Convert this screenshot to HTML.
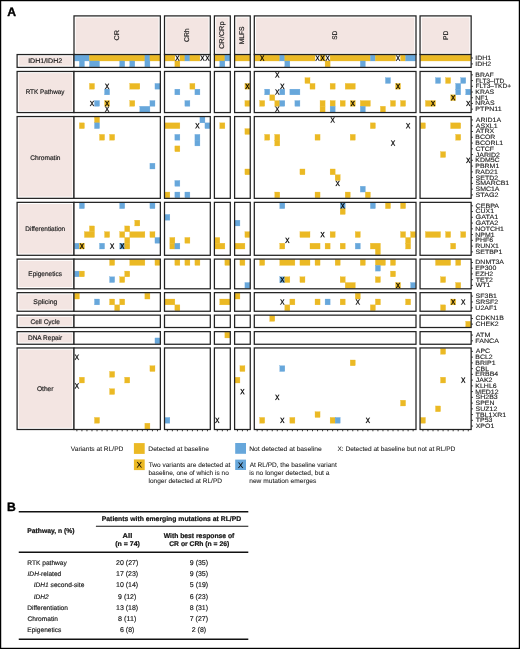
<!DOCTYPE html>
<html><head><meta charset="utf-8"><title>Figure</title>
<style>
html,body{margin:0;padding:0;background:#fff;width:520px;height:649px;overflow:hidden}
svg{display:block;font-family:"Liberation Sans",sans-serif;will-change:transform;text-rendering:geometricPrecision}
</style></head><body>
<svg width="520" height="649" viewBox="0 0 520 649">
<defs><path id="r59" d="M1112 0 689 616 257 0H46L582 732L87 1409H298L690 856L1071 1409H1282L800 739L1323 0Z"/></defs>
<rect width="520" height="649" fill="#fff"/>
<text x="7.196" y="15.75" font-size="12.2" font-weight="bold" textLength="8.81" lengthAdjust="spacingAndGlyphs" fill="#000" stroke="#000" stroke-width="0.35" stroke-linejoin="round">A</text>
<rect x="75.7" y="17.6" width="82.95" height="35.25" fill="#F3E5E2"/>
<rect x="74" y="15.9" width="86.35" height="38.65" fill="none" stroke="#222" stroke-width="1.25"/>
<g transform="translate(116.775 35.225) rotate(-90)"><text x="-5.323" y="2.339" font-size="6.8" textLength="10.614" lengthAdjust="spacingAndGlyphs" fill="#1e1e1e" stroke="#1e1e1e" stroke-width="0.2" stroke-linejoin="round">CR</text></g>
<rect x="166.2" y="17.6" width="42.4" height="35.25" fill="#F3E5E2"/>
<rect x="164.5" y="15.9" width="45.8" height="38.65" fill="none" stroke="#222" stroke-width="1.25"/>
<g transform="translate(187 35.225) rotate(-90)"><text x="-6.745" y="2.339" font-size="6.8" textLength="13.586" lengthAdjust="spacingAndGlyphs" fill="#1e1e1e" stroke="#1e1e1e" stroke-width="0.2" stroke-linejoin="round">CRh</text></g>
<rect x="216.1" y="17.6" width="12.5" height="35.25" fill="#F3E5E2"/>
<rect x="214.4" y="15.9" width="15.9" height="38.65" fill="none" stroke="#222" stroke-width="1.25"/>
<g transform="translate(221.95 35.225) rotate(-90)"><text x="-13.878" y="2.339" font-size="6.8" textLength="27.69" lengthAdjust="spacingAndGlyphs" fill="#1e1e1e" stroke="#1e1e1e" stroke-width="0.2" stroke-linejoin="round">CR/CRp</text></g>
<rect x="236.3" y="17.6" width="12.25" height="35.25" fill="#F3E5E2"/>
<rect x="234.6" y="15.9" width="15.65" height="38.65" fill="none" stroke="#222" stroke-width="1.25"/>
<g transform="translate(242.025 35.225) rotate(-90)"><text x="-9.049" y="2.339" font-size="6.8" textLength="17.857" lengthAdjust="spacingAndGlyphs" fill="#1e1e1e" stroke="#1e1e1e" stroke-width="0.2" stroke-linejoin="round">MLFS</text></g>
<rect x="256" y="17.6" width="158.3" height="35.25" fill="#F3E5E2"/>
<rect x="254.3" y="15.9" width="161.7" height="38.65" fill="none" stroke="#222" stroke-width="1.25"/>
<g transform="translate(334.75 35.225) rotate(-90)"><text x="-4.494" y="2.339" font-size="6.8" textLength="9.005" lengthAdjust="spacingAndGlyphs" fill="#1e1e1e" stroke="#1e1e1e" stroke-width="0.2" stroke-linejoin="round">SD</text></g>
<rect x="421.75" y="17.6" width="47.7" height="35.25" fill="#F3E5E2"/>
<rect x="420.05" y="15.9" width="51.1" height="38.65" fill="none" stroke="#222" stroke-width="1.25"/>
<g transform="translate(445.2 35.225) rotate(-90)"><text x="-4.747" y="2.339" font-size="6.8" textLength="9.266" lengthAdjust="spacingAndGlyphs" fill="#1e1e1e" stroke="#1e1e1e" stroke-width="0.2" stroke-linejoin="round">PD</text></g>
<rect x="18.8" y="56.25" width="53.5" height="9.45" fill="#F3E5E2"/>
<rect x="17.1" y="54.55" width="56.9" height="12.85" fill="none" stroke="#222" stroke-width="1.25"/>
<text x="28.151" y="63.28" font-size="6.7" textLength="34.003" lengthAdjust="spacingAndGlyphs" fill="#1e1e1e" stroke="#1e1e1e" stroke-width="0.18" stroke-linejoin="round">IDH1/IDH2</text>
<rect x="74" y="54.55" width="86.35" height="12.85" fill="#fff"/>
<rect x="74.35" y="55.1" width="15.115" height="5.875" fill="#67A7DB" stroke="#67A7DB" stroke-width="0.3"/>
<rect x="89.465" y="55.1" width="55.421" height="5.875" fill="#EBB924" stroke="#EBB924" stroke-width="0.3"/>
<rect x="144.885" y="55.1" width="5.038" height="5.875" fill="#67A7DB" stroke="#67A7DB" stroke-width="0.3"/>
<rect x="149.924" y="55.1" width="10.076" height="5.875" fill="#EBB924" stroke="#EBB924" stroke-width="0.3"/>
<rect x="79.388" y="60.975" width="5.038" height="5.875" fill="#67A7DB" stroke="#67A7DB" stroke-width="0.3"/>
<rect x="89.465" y="60.975" width="10.076" height="5.875" fill="#67A7DB" stroke="#67A7DB" stroke-width="0.3"/>
<rect x="119.694" y="60.975" width="5.038" height="5.875" fill="#67A7DB" stroke="#67A7DB" stroke-width="0.3"/>
<rect x="129.771" y="60.975" width="5.038" height="5.875" fill="#67A7DB" stroke="#67A7DB" stroke-width="0.3"/>
<rect x="144.885" y="60.975" width="5.038" height="5.875" fill="#67A7DB" stroke="#67A7DB" stroke-width="0.3"/>
<rect x="74" y="54.55" width="86.35" height="12.85" fill="none" stroke="#222" stroke-width="1.25"/>
<rect x="164.5" y="54.55" width="45.8" height="12.85" fill="#fff"/>
<rect x="164.85" y="55.1" width="10.022" height="5.875" fill="#EBB924" stroke="#EBB924" stroke-width="0.3"/>
<rect x="179.883" y="55.1" width="5.011" height="5.875" fill="#EBB924" stroke="#EBB924" stroke-width="0.3"/>
<rect x="184.894" y="55.1" width="5.011" height="5.875" fill="#67A7DB" stroke="#67A7DB" stroke-width="0.3"/>
<rect x="189.906" y="55.1" width="10.022" height="5.875" fill="#EBB924" stroke="#EBB924" stroke-width="0.3"/>
<rect x="174.872" y="60.975" width="5.011" height="5.875" fill="#EBB924" stroke="#EBB924" stroke-width="0.3"/>
<rect x="164.5" y="54.55" width="45.8" height="12.85" fill="none" stroke="#222" stroke-width="1.25"/>
<rect x="214.4" y="54.55" width="15.9" height="12.85" fill="#fff"/>
<rect x="214.75" y="55.1" width="10.133" height="5.875" fill="#EBB924" stroke="#EBB924" stroke-width="0.3"/>
<rect x="224.883" y="55.1" width="5.067" height="5.875" fill="#67A7DB" stroke="#67A7DB" stroke-width="0.3"/>
<rect x="219.817" y="60.975" width="5.067" height="5.875" fill="#67A7DB" stroke="#67A7DB" stroke-width="0.3"/>
<rect x="214.4" y="54.55" width="15.9" height="12.85" fill="none" stroke="#222" stroke-width="1.25"/>
<rect x="234.6" y="54.55" width="15.65" height="12.85" fill="#fff"/>
<rect x="234.95" y="55.1" width="14.95" height="5.875" fill="#EBB924" stroke="#EBB924" stroke-width="0.3"/>
<rect x="234.6" y="54.55" width="15.65" height="12.85" fill="none" stroke="#222" stroke-width="1.25"/>
<rect x="254.3" y="54.55" width="161.7" height="12.85" fill="#fff"/>
<rect x="254.65" y="55.1" width="25.156" height="5.875" fill="#EBB924" stroke="#EBB924" stroke-width="0.3"/>
<rect x="279.806" y="55.1" width="5.031" height="5.875" fill="#67A7DB" stroke="#67A7DB" stroke-width="0.3"/>
<rect x="284.837" y="55.1" width="30.188" height="5.875" fill="#EBB924" stroke="#EBB924" stroke-width="0.3"/>
<rect x="320.056" y="55.1" width="5.031" height="5.875" fill="#EBB924" stroke="#EBB924" stroke-width="0.3"/>
<rect x="330.119" y="55.1" width="40.25" height="5.875" fill="#EBB924" stroke="#EBB924" stroke-width="0.3"/>
<rect x="370.369" y="55.1" width="5.031" height="5.875" fill="#67A7DB" stroke="#67A7DB" stroke-width="0.3"/>
<rect x="375.4" y="55.1" width="20.125" height="5.875" fill="#EBB924" stroke="#EBB924" stroke-width="0.3"/>
<rect x="400.556" y="55.1" width="5.031" height="5.875" fill="#EBB924" stroke="#EBB924" stroke-width="0.3"/>
<rect x="405.587" y="55.1" width="10.062" height="5.875" fill="#67A7DB" stroke="#67A7DB" stroke-width="0.3"/>
<rect x="284.837" y="60.975" width="5.031" height="5.875" fill="#67A7DB" stroke="#67A7DB" stroke-width="0.3"/>
<rect x="325.087" y="60.975" width="5.031" height="5.875" fill="#EBB924" stroke="#EBB924" stroke-width="0.3"/>
<rect x="360.306" y="60.975" width="5.031" height="5.875" fill="#67A7DB" stroke="#67A7DB" stroke-width="0.3"/>
<rect x="254.3" y="54.55" width="161.7" height="12.85" fill="none" stroke="#222" stroke-width="1.25"/>
<rect x="420.05" y="54.55" width="51.1" height="12.85" fill="#fff"/>
<rect x="420.4" y="55.1" width="50.4" height="5.875" fill="#EBB924" stroke="#EBB924" stroke-width="0.3"/>
<rect x="420.05" y="54.55" width="51.1" height="12.85" fill="none" stroke="#222" stroke-width="1.25"/>
<text x="475.286" y="59.987" font-size="6.3" textLength="15.901" lengthAdjust="spacingAndGlyphs" fill="#1e1e1e" stroke="#1e1e1e" stroke-width="0.12" stroke-linejoin="round">IDH1</text>
<text x="475.286" y="65.862" font-size="6.3" textLength="15.901" lengthAdjust="spacingAndGlyphs" fill="#1e1e1e" stroke="#1e1e1e" stroke-width="0.12" stroke-linejoin="round">IDH2</text>
<rect x="18.8" y="73.15" width="53.5" height="37.7" fill="#F3E5E2"/>
<rect x="17.1" y="71.45" width="56.9" height="41.1" fill="none" stroke="#222" stroke-width="1.25"/>
<text x="25.629" y="94.305" font-size="6.7" textLength="38.833" lengthAdjust="spacingAndGlyphs" fill="#1e1e1e" stroke="#1e1e1e" stroke-width="0.18" stroke-linejoin="round">RTK Pathway</text>
<rect x="74" y="71.45" width="86.35" height="41.1" fill="#fff"/>
<rect x="89.465" y="83.429" width="5.038" height="5.714" fill="#EBB924" stroke="#EBB924" stroke-width="0.3"/>
<rect x="129.771" y="83.429" width="10.076" height="5.714" fill="#EBB924" stroke="#EBB924" stroke-width="0.3"/>
<rect x="154.962" y="83.429" width="5.038" height="5.714" fill="#67A7DB" stroke="#67A7DB" stroke-width="0.3"/>
<rect x="104.579" y="89.143" width="5.038" height="5.714" fill="#67A7DB" stroke="#67A7DB" stroke-width="0.3"/>
<rect x="94.503" y="100.571" width="5.038" height="5.714" fill="#67A7DB" stroke="#67A7DB" stroke-width="0.3"/>
<rect x="104.579" y="100.571" width="5.038" height="5.714" fill="#EBB924" stroke="#EBB924" stroke-width="0.3"/>
<rect x="129.771" y="100.571" width="5.038" height="5.714" fill="#EBB924" stroke="#EBB924" stroke-width="0.3"/>
<rect x="149.924" y="100.571" width="5.038" height="5.714" fill="#67A7DB" stroke="#67A7DB" stroke-width="0.3"/>
<rect x="139.847" y="106.286" width="10.076" height="5.714" fill="#67A7DB" stroke="#67A7DB" stroke-width="0.3"/>
<rect x="74" y="71.45" width="86.35" height="41.1" fill="none" stroke="#222" stroke-width="1.25"/>
<rect x="164.5" y="71.45" width="45.8" height="41.1" fill="#fff"/>
<rect x="189.906" y="83.429" width="5.011" height="5.714" fill="#EBB924" stroke="#EBB924" stroke-width="0.3"/>
<rect x="174.872" y="89.143" width="5.011" height="5.714" fill="#67A7DB" stroke="#67A7DB" stroke-width="0.3"/>
<rect x="194.917" y="89.143" width="5.011" height="5.714" fill="#67A7DB" stroke="#67A7DB" stroke-width="0.3"/>
<rect x="184.894" y="100.571" width="5.011" height="5.714" fill="#67A7DB" stroke="#67A7DB" stroke-width="0.3"/>
<rect x="164.5" y="71.45" width="45.8" height="41.1" fill="none" stroke="#222" stroke-width="1.25"/>
<rect x="214.4" y="71.45" width="15.9" height="41.1" fill="#fff"/>
<rect x="214.4" y="71.45" width="15.9" height="41.1" fill="none" stroke="#222" stroke-width="1.25"/>
<rect x="234.6" y="71.45" width="15.65" height="41.1" fill="#fff"/>
<rect x="244.917" y="83.429" width="4.983" height="5.714" fill="#EBB924" stroke="#EBB924" stroke-width="0.3"/>
<rect x="244.917" y="100.571" width="4.983" height="5.714" fill="#EBB924" stroke="#EBB924" stroke-width="0.3"/>
<rect x="234.6" y="71.45" width="15.65" height="41.1" fill="none" stroke="#222" stroke-width="1.25"/>
<rect x="254.3" y="71.45" width="161.7" height="41.1" fill="#fff"/>
<rect x="304.962" y="77.714" width="5.031" height="5.714" fill="#EBB924" stroke="#EBB924" stroke-width="0.3"/>
<rect x="385.462" y="77.714" width="5.031" height="5.714" fill="#67A7DB" stroke="#67A7DB" stroke-width="0.3"/>
<rect x="309.994" y="83.429" width="5.031" height="5.714" fill="#EBB924" stroke="#EBB924" stroke-width="0.3"/>
<rect x="330.119" y="83.429" width="5.031" height="5.714" fill="#EBB924" stroke="#EBB924" stroke-width="0.3"/>
<rect x="345.212" y="83.429" width="10.062" height="5.714" fill="#EBB924" stroke="#EBB924" stroke-width="0.3"/>
<rect x="395.525" y="83.429" width="5.031" height="5.714" fill="#EBB924" stroke="#EBB924" stroke-width="0.3"/>
<rect x="264.712" y="89.143" width="5.031" height="5.714" fill="#67A7DB" stroke="#67A7DB" stroke-width="0.3"/>
<rect x="279.806" y="89.143" width="5.031" height="5.714" fill="#67A7DB" stroke="#67A7DB" stroke-width="0.3"/>
<rect x="289.869" y="89.143" width="10.062" height="5.714" fill="#67A7DB" stroke="#67A7DB" stroke-width="0.3"/>
<rect x="269.744" y="94.857" width="5.031" height="5.714" fill="#EBB924" stroke="#EBB924" stroke-width="0.3"/>
<rect x="259.681" y="100.571" width="5.031" height="5.714" fill="#EBB924" stroke="#EBB924" stroke-width="0.3"/>
<rect x="274.775" y="100.571" width="5.031" height="5.714" fill="#EBB924" stroke="#EBB924" stroke-width="0.3"/>
<rect x="279.806" y="100.571" width="5.031" height="5.714" fill="#67A7DB" stroke="#67A7DB" stroke-width="0.3"/>
<rect x="294.9" y="100.571" width="5.031" height="5.714" fill="#67A7DB" stroke="#67A7DB" stroke-width="0.3"/>
<rect x="320.056" y="100.571" width="5.031" height="5.714" fill="#EBB924" stroke="#EBB924" stroke-width="0.3"/>
<rect x="330.119" y="100.571" width="5.031" height="5.714" fill="#EBB924" stroke="#EBB924" stroke-width="0.3"/>
<rect x="340.181" y="100.571" width="5.031" height="5.714" fill="#EBB924" stroke="#EBB924" stroke-width="0.3"/>
<rect x="350.244" y="100.571" width="5.031" height="5.714" fill="#EBB924" stroke="#EBB924" stroke-width="0.3"/>
<rect x="360.306" y="100.571" width="10.062" height="5.714" fill="#EBB924" stroke="#EBB924" stroke-width="0.3"/>
<rect x="390.494" y="100.571" width="5.031" height="5.714" fill="#EBB924" stroke="#EBB924" stroke-width="0.3"/>
<rect x="400.556" y="100.571" width="5.031" height="5.714" fill="#EBB924" stroke="#EBB924" stroke-width="0.3"/>
<rect x="320.056" y="106.286" width="5.031" height="5.714" fill="#EBB924" stroke="#EBB924" stroke-width="0.3"/>
<rect x="330.119" y="106.286" width="5.031" height="5.714" fill="#67A7DB" stroke="#67A7DB" stroke-width="0.3"/>
<rect x="360.306" y="106.286" width="5.031" height="5.714" fill="#67A7DB" stroke="#67A7DB" stroke-width="0.3"/>
<rect x="380.431" y="106.286" width="5.031" height="5.714" fill="#EBB924" stroke="#EBB924" stroke-width="0.3"/>
<rect x="254.3" y="71.45" width="161.7" height="41.1" fill="none" stroke="#222" stroke-width="1.25"/>
<rect x="420.05" y="71.45" width="51.1" height="41.1" fill="#fff"/>
<rect x="435.52" y="77.714" width="5.04" height="5.714" fill="#67A7DB" stroke="#67A7DB" stroke-width="0.3"/>
<rect x="445.6" y="77.714" width="5.04" height="5.714" fill="#EBB924" stroke="#EBB924" stroke-width="0.3"/>
<rect x="460.72" y="77.714" width="5.04" height="5.714" fill="#67A7DB" stroke="#67A7DB" stroke-width="0.3"/>
<rect x="455.68" y="83.429" width="5.04" height="5.714" fill="#67A7DB" stroke="#67A7DB" stroke-width="0.3"/>
<rect x="455.68" y="89.143" width="5.04" height="5.714" fill="#67A7DB" stroke="#67A7DB" stroke-width="0.3"/>
<rect x="465.76" y="89.143" width="5.04" height="5.714" fill="#67A7DB" stroke="#67A7DB" stroke-width="0.3"/>
<rect x="450.64" y="94.857" width="5.04" height="5.714" fill="#EBB924" stroke="#EBB924" stroke-width="0.3"/>
<rect x="425.44" y="100.571" width="10.08" height="5.714" fill="#EBB924" stroke="#EBB924" stroke-width="0.3"/>
<rect x="420.05" y="71.45" width="51.1" height="41.1" fill="none" stroke="#222" stroke-width="1.25"/>
<text x="475.354" y="76.807" font-size="6.3" textLength="18.485" lengthAdjust="spacingAndGlyphs" fill="#1e1e1e" stroke="#1e1e1e" stroke-width="0.12" stroke-linejoin="round">BRAF</text>
<text x="475.404" y="82.521" font-size="6.3" textLength="28.785" lengthAdjust="spacingAndGlyphs" fill="#1e1e1e" stroke="#1e1e1e" stroke-width="0.12" stroke-linejoin="round">FLT3–ITD</text>
<text x="475.391" y="88.236" font-size="6.3" textLength="35.815" lengthAdjust="spacingAndGlyphs" fill="#1e1e1e" stroke="#1e1e1e" stroke-width="0.12" stroke-linejoin="round">FLT3–TKD+</text>
<text x="475.354" y="93.95" font-size="6.3" textLength="18.859" lengthAdjust="spacingAndGlyphs" fill="#1e1e1e" stroke="#1e1e1e" stroke-width="0.12" stroke-linejoin="round">KRAS</text>
<text x="475.354" y="99.664" font-size="6.3" textLength="13.063" lengthAdjust="spacingAndGlyphs" fill="#1e1e1e" stroke="#1e1e1e" stroke-width="0.12" stroke-linejoin="round">NF1</text>
<text x="475.354" y="105.379" font-size="6.3" textLength="19.226" lengthAdjust="spacingAndGlyphs" fill="#1e1e1e" stroke="#1e1e1e" stroke-width="0.12" stroke-linejoin="round">NRAS</text>
<text x="475.354" y="111.093" font-size="6.3" textLength="26.382" lengthAdjust="spacingAndGlyphs" fill="#1e1e1e" stroke="#1e1e1e" stroke-width="0.12" stroke-linejoin="round">PTPN11</text>
<rect x="18.8" y="118.25" width="53.5" height="78.4" fill="#F3E5E2"/>
<rect x="17.1" y="116.55" width="56.9" height="81.8" fill="none" stroke="#222" stroke-width="1.25"/>
<text x="30.166" y="159.755" font-size="6.7" textLength="30.362" lengthAdjust="spacingAndGlyphs" fill="#1e1e1e" stroke="#1e1e1e" stroke-width="0.18" stroke-linejoin="round">Chromatin</text>
<rect x="74" y="116.55" width="86.35" height="81.8" fill="#fff"/>
<rect x="94.503" y="117.1" width="5.038" height="5.764" fill="#EBB924" stroke="#EBB924" stroke-width="0.3"/>
<rect x="79.388" y="122.864" width="5.038" height="5.764" fill="#EBB924" stroke="#EBB924" stroke-width="0.3"/>
<rect x="94.503" y="122.864" width="5.038" height="5.764" fill="#67A7DB" stroke="#67A7DB" stroke-width="0.3"/>
<rect x="99.541" y="134.393" width="5.038" height="5.764" fill="#EBB924" stroke="#EBB924" stroke-width="0.3"/>
<rect x="109.618" y="134.393" width="5.038" height="5.764" fill="#EBB924" stroke="#EBB924" stroke-width="0.3"/>
<rect x="149.924" y="163.214" width="5.038" height="5.764" fill="#67A7DB" stroke="#67A7DB" stroke-width="0.3"/>
<rect x="74" y="116.55" width="86.35" height="81.8" fill="none" stroke="#222" stroke-width="1.25"/>
<rect x="164.5" y="116.55" width="45.8" height="81.8" fill="#fff"/>
<rect x="199.928" y="117.1" width="5.011" height="5.764" fill="#67A7DB" stroke="#67A7DB" stroke-width="0.3"/>
<rect x="164.85" y="122.864" width="15.033" height="5.764" fill="#EBB924" stroke="#EBB924" stroke-width="0.3"/>
<rect x="204.939" y="122.864" width="5.011" height="5.764" fill="#67A7DB" stroke="#67A7DB" stroke-width="0.3"/>
<rect x="174.872" y="134.393" width="5.011" height="5.764" fill="#67A7DB" stroke="#67A7DB" stroke-width="0.3"/>
<rect x="194.917" y="134.393" width="5.011" height="5.764" fill="#67A7DB" stroke="#67A7DB" stroke-width="0.3"/>
<rect x="194.917" y="140.157" width="5.011" height="5.764" fill="#67A7DB" stroke="#67A7DB" stroke-width="0.3"/>
<rect x="174.872" y="145.921" width="5.011" height="5.764" fill="#EBB924" stroke="#EBB924" stroke-width="0.3"/>
<rect x="174.872" y="180.507" width="5.011" height="5.764" fill="#67A7DB" stroke="#67A7DB" stroke-width="0.3"/>
<rect x="164.85" y="192.036" width="5.011" height="5.764" fill="#EBB924" stroke="#EBB924" stroke-width="0.3"/>
<rect x="174.872" y="192.036" width="5.011" height="5.764" fill="#67A7DB" stroke="#67A7DB" stroke-width="0.3"/>
<rect x="184.894" y="192.036" width="5.011" height="5.764" fill="#67A7DB" stroke="#67A7DB" stroke-width="0.3"/>
<rect x="164.5" y="116.55" width="45.8" height="81.8" fill="none" stroke="#222" stroke-width="1.25"/>
<rect x="214.4" y="116.55" width="15.9" height="81.8" fill="#fff"/>
<rect x="219.817" y="122.864" width="5.067" height="5.764" fill="#EBB924" stroke="#EBB924" stroke-width="0.3"/>
<rect x="214.4" y="116.55" width="15.9" height="81.8" fill="none" stroke="#222" stroke-width="1.25"/>
<rect x="234.6" y="116.55" width="15.65" height="81.8" fill="#fff"/>
<rect x="244.917" y="128.629" width="4.983" height="5.764" fill="#EBB924" stroke="#EBB924" stroke-width="0.3"/>
<rect x="244.917" y="168.979" width="4.983" height="5.764" fill="#EBB924" stroke="#EBB924" stroke-width="0.3"/>
<rect x="234.6" y="116.55" width="15.65" height="81.8" fill="none" stroke="#222" stroke-width="1.25"/>
<rect x="254.3" y="116.55" width="161.7" height="81.8" fill="#fff"/>
<rect x="370.369" y="122.864" width="5.031" height="5.764" fill="#EBB924" stroke="#EBB924" stroke-width="0.3"/>
<rect x="264.712" y="134.393" width="5.031" height="5.764" fill="#EBB924" stroke="#EBB924" stroke-width="0.3"/>
<rect x="274.775" y="134.393" width="5.031" height="5.764" fill="#EBB924" stroke="#EBB924" stroke-width="0.3"/>
<rect x="315.025" y="134.393" width="5.031" height="5.764" fill="#EBB924" stroke="#EBB924" stroke-width="0.3"/>
<rect x="350.244" y="134.393" width="5.031" height="5.764" fill="#EBB924" stroke="#EBB924" stroke-width="0.3"/>
<rect x="274.775" y="140.157" width="5.031" height="5.764" fill="#EBB924" stroke="#EBB924" stroke-width="0.3"/>
<rect x="299.931" y="168.979" width="5.031" height="5.764" fill="#EBB924" stroke="#EBB924" stroke-width="0.3"/>
<rect x="330.119" y="168.979" width="5.031" height="5.764" fill="#EBB924" stroke="#EBB924" stroke-width="0.3"/>
<rect x="335.15" y="174.743" width="5.031" height="5.764" fill="#EBB924" stroke="#EBB924" stroke-width="0.3"/>
<rect x="360.306" y="186.271" width="5.031" height="5.764" fill="#67A7DB" stroke="#67A7DB" stroke-width="0.3"/>
<rect x="274.775" y="192.036" width="5.031" height="5.764" fill="#EBB924" stroke="#EBB924" stroke-width="0.3"/>
<rect x="315.025" y="192.036" width="5.031" height="5.764" fill="#EBB924" stroke="#EBB924" stroke-width="0.3"/>
<rect x="345.212" y="192.036" width="5.031" height="5.764" fill="#EBB924" stroke="#EBB924" stroke-width="0.3"/>
<rect x="365.337" y="192.036" width="5.031" height="5.764" fill="#EBB924" stroke="#EBB924" stroke-width="0.3"/>
<rect x="254.3" y="116.55" width="161.7" height="81.8" fill="none" stroke="#222" stroke-width="1.25"/>
<rect x="420.05" y="116.55" width="51.1" height="81.8" fill="#fff"/>
<rect x="420.4" y="122.864" width="5.04" height="5.764" fill="#EBB924" stroke="#EBB924" stroke-width="0.3"/>
<rect x="450.64" y="122.864" width="10.08" height="5.764" fill="#EBB924" stroke="#EBB924" stroke-width="0.3"/>
<rect x="455.68" y="134.393" width="5.04" height="5.764" fill="#EBB924" stroke="#EBB924" stroke-width="0.3"/>
<rect x="440.56" y="151.686" width="5.04" height="5.764" fill="#EBB924" stroke="#EBB924" stroke-width="0.3"/>
<rect x="420.05" y="116.55" width="51.1" height="81.8" fill="none" stroke="#222" stroke-width="1.25"/>
<text x="475.887" y="121.932" font-size="6.3" textLength="25.272" lengthAdjust="spacingAndGlyphs" fill="#1e1e1e" stroke="#1e1e1e" stroke-width="0.12" stroke-linejoin="round">ARID1A</text>
<text x="475.887" y="127.696" font-size="6.3" textLength="21.703" lengthAdjust="spacingAndGlyphs" fill="#1e1e1e" stroke="#1e1e1e" stroke-width="0.12" stroke-linejoin="round">ASXL1</text>
<text x="475.887" y="133.461" font-size="6.3" textLength="18.485" lengthAdjust="spacingAndGlyphs" fill="#1e1e1e" stroke="#1e1e1e" stroke-width="0.12" stroke-linejoin="round">ATRX</text>
<text x="475.354" y="139.225" font-size="6.3" textLength="19.963" lengthAdjust="spacingAndGlyphs" fill="#1e1e1e" stroke="#1e1e1e" stroke-width="0.12" stroke-linejoin="round">BCOR</text>
<text x="475.354" y="144.989" font-size="6.3" textLength="27.86" lengthAdjust="spacingAndGlyphs" fill="#1e1e1e" stroke="#1e1e1e" stroke-width="0.12" stroke-linejoin="round">BCORL1</text>
<text x="475.562" y="150.754" font-size="6.3" textLength="18.479" lengthAdjust="spacingAndGlyphs" fill="#1e1e1e" stroke="#1e1e1e" stroke-width="0.12" stroke-linejoin="round">CTCF</text>
<text x="475.796" y="156.518" font-size="6.3" textLength="24.161" lengthAdjust="spacingAndGlyphs" fill="#1e1e1e" stroke="#1e1e1e" stroke-width="0.12" stroke-linejoin="round">JARID2</text>
<text x="475.354" y="162.282" font-size="6.3" textLength="24.278" lengthAdjust="spacingAndGlyphs" fill="#1e1e1e" stroke="#1e1e1e" stroke-width="0.12" stroke-linejoin="round">KDM5C</text>
<text x="475.354" y="168.046" font-size="6.3" textLength="23.911" lengthAdjust="spacingAndGlyphs" fill="#1e1e1e" stroke="#1e1e1e" stroke-width="0.12" stroke-linejoin="round">PBRM1</text>
<text x="475.354" y="173.811" font-size="6.3" textLength="22.437" lengthAdjust="spacingAndGlyphs" fill="#1e1e1e" stroke="#1e1e1e" stroke-width="0.12" stroke-linejoin="round">RAD21</text>
<text x="475.598" y="179.575" font-size="6.3" textLength="22.434" lengthAdjust="spacingAndGlyphs" fill="#1e1e1e" stroke="#1e1e1e" stroke-width="0.12" stroke-linejoin="round">SETD2</text>
<text x="475.598" y="185.339" font-size="6.3" textLength="33.649" lengthAdjust="spacingAndGlyphs" fill="#1e1e1e" stroke="#1e1e1e" stroke-width="0.12" stroke-linejoin="round">SMARCB1</text>
<text x="475.598" y="191.104" font-size="6.3" textLength="23.911" lengthAdjust="spacingAndGlyphs" fill="#1e1e1e" stroke="#1e1e1e" stroke-width="0.12" stroke-linejoin="round">SMC1A</text>
<text x="475.598" y="196.868" font-size="6.3" textLength="22.804" lengthAdjust="spacingAndGlyphs" fill="#1e1e1e" stroke="#1e1e1e" stroke-width="0.12" stroke-linejoin="round">STAG2</text>
<rect x="18.8" y="204.05" width="53.5" height="49.55" fill="#F3E5E2"/>
<rect x="17.1" y="202.35" width="56.9" height="52.95" fill="none" stroke="#222" stroke-width="1.25"/>
<text x="25.32" y="231.13" font-size="6.7" textLength="39.849" lengthAdjust="spacingAndGlyphs" fill="#1e1e1e" stroke="#1e1e1e" stroke-width="0.18" stroke-linejoin="round">Differentiation</text>
<rect x="74" y="202.35" width="86.35" height="52.95" fill="#fff"/>
<rect x="79.388" y="202.9" width="5.038" height="5.761" fill="#67A7DB" stroke="#67A7DB" stroke-width="0.3"/>
<rect x="119.694" y="202.9" width="5.038" height="5.761" fill="#67A7DB" stroke="#67A7DB" stroke-width="0.3"/>
<rect x="149.924" y="202.9" width="5.038" height="5.761" fill="#67A7DB" stroke="#67A7DB" stroke-width="0.3"/>
<rect x="134.809" y="220.183" width="5.038" height="5.761" fill="#EBB924" stroke="#EBB924" stroke-width="0.3"/>
<rect x="89.465" y="225.944" width="5.038" height="5.761" fill="#EBB924" stroke="#EBB924" stroke-width="0.3"/>
<rect x="124.732" y="225.944" width="5.038" height="5.761" fill="#EBB924" stroke="#EBB924" stroke-width="0.3"/>
<rect x="84.426" y="231.706" width="10.076" height="5.761" fill="#EBB924" stroke="#EBB924" stroke-width="0.3"/>
<rect x="104.579" y="231.706" width="5.038" height="5.761" fill="#EBB924" stroke="#EBB924" stroke-width="0.3"/>
<rect x="119.694" y="231.706" width="5.038" height="5.761" fill="#EBB924" stroke="#EBB924" stroke-width="0.3"/>
<rect x="129.771" y="231.706" width="15.115" height="5.761" fill="#EBB924" stroke="#EBB924" stroke-width="0.3"/>
<rect x="149.924" y="231.706" width="5.038" height="5.761" fill="#EBB924" stroke="#EBB924" stroke-width="0.3"/>
<rect x="124.732" y="237.467" width="5.038" height="5.761" fill="#EBB924" stroke="#EBB924" stroke-width="0.3"/>
<rect x="154.962" y="237.467" width="5.038" height="5.761" fill="#67A7DB" stroke="#67A7DB" stroke-width="0.3"/>
<rect x="74.35" y="243.228" width="5.038" height="5.761" fill="#67A7DB" stroke="#67A7DB" stroke-width="0.3"/>
<rect x="79.388" y="243.228" width="5.038" height="5.761" fill="#EBB924" stroke="#EBB924" stroke-width="0.3"/>
<rect x="99.541" y="243.228" width="5.038" height="5.761" fill="#67A7DB" stroke="#67A7DB" stroke-width="0.3"/>
<rect x="119.694" y="243.228" width="5.038" height="5.761" fill="#67A7DB" stroke="#67A7DB" stroke-width="0.3"/>
<rect x="124.732" y="243.228" width="5.038" height="5.761" fill="#EBB924" stroke="#EBB924" stroke-width="0.3"/>
<rect x="74" y="202.35" width="86.35" height="52.95" fill="none" stroke="#222" stroke-width="1.25"/>
<rect x="164.5" y="202.35" width="45.8" height="52.95" fill="#fff"/>
<rect x="164.85" y="214.422" width="5.011" height="5.761" fill="#67A7DB" stroke="#67A7DB" stroke-width="0.3"/>
<rect x="169.861" y="237.467" width="5.011" height="5.761" fill="#EBB924" stroke="#EBB924" stroke-width="0.3"/>
<rect x="184.894" y="237.467" width="5.011" height="5.761" fill="#EBB924" stroke="#EBB924" stroke-width="0.3"/>
<rect x="169.861" y="243.228" width="5.011" height="5.761" fill="#EBB924" stroke="#EBB924" stroke-width="0.3"/>
<rect x="174.872" y="243.228" width="5.011" height="5.761" fill="#67A7DB" stroke="#67A7DB" stroke-width="0.3"/>
<rect x="164.5" y="202.35" width="45.8" height="52.95" fill="none" stroke="#222" stroke-width="1.25"/>
<rect x="214.4" y="202.35" width="15.9" height="52.95" fill="#fff"/>
<rect x="214.75" y="237.467" width="5.067" height="5.761" fill="#EBB924" stroke="#EBB924" stroke-width="0.3"/>
<rect x="214.75" y="243.228" width="10.133" height="5.761" fill="#EBB924" stroke="#EBB924" stroke-width="0.3"/>
<rect x="214.4" y="202.35" width="15.9" height="52.95" fill="none" stroke="#222" stroke-width="1.25"/>
<rect x="234.6" y="202.35" width="15.65" height="52.95" fill="#fff"/>
<rect x="234.95" y="220.183" width="4.983" height="5.761" fill="#67A7DB" stroke="#67A7DB" stroke-width="0.3"/>
<rect x="244.917" y="231.706" width="4.983" height="5.761" fill="#EBB924" stroke="#EBB924" stroke-width="0.3"/>
<rect x="234.95" y="243.228" width="9.967" height="5.761" fill="#EBB924" stroke="#EBB924" stroke-width="0.3"/>
<rect x="234.6" y="202.35" width="15.65" height="52.95" fill="none" stroke="#222" stroke-width="1.25"/>
<rect x="254.3" y="202.35" width="161.7" height="52.95" fill="#fff"/>
<rect x="279.806" y="202.9" width="5.031" height="5.761" fill="#67A7DB" stroke="#67A7DB" stroke-width="0.3"/>
<rect x="340.181" y="202.9" width="5.031" height="5.761" fill="#67A7DB" stroke="#67A7DB" stroke-width="0.3"/>
<rect x="370.369" y="202.9" width="5.031" height="5.761" fill="#67A7DB" stroke="#67A7DB" stroke-width="0.3"/>
<rect x="385.462" y="202.9" width="5.031" height="5.761" fill="#EBB924" stroke="#EBB924" stroke-width="0.3"/>
<rect x="400.556" y="202.9" width="5.031" height="5.761" fill="#EBB924" stroke="#EBB924" stroke-width="0.3"/>
<rect x="340.181" y="208.661" width="5.031" height="5.761" fill="#EBB924" stroke="#EBB924" stroke-width="0.3"/>
<rect x="299.931" y="231.706" width="10.062" height="5.761" fill="#EBB924" stroke="#EBB924" stroke-width="0.3"/>
<rect x="330.119" y="231.706" width="5.031" height="5.761" fill="#EBB924" stroke="#EBB924" stroke-width="0.3"/>
<rect x="355.275" y="231.706" width="5.031" height="5.761" fill="#EBB924" stroke="#EBB924" stroke-width="0.3"/>
<rect x="400.556" y="231.706" width="5.031" height="5.761" fill="#EBB924" stroke="#EBB924" stroke-width="0.3"/>
<rect x="410.619" y="231.706" width="5.031" height="5.761" fill="#EBB924" stroke="#EBB924" stroke-width="0.3"/>
<rect x="405.587" y="237.467" width="5.031" height="5.761" fill="#EBB924" stroke="#EBB924" stroke-width="0.3"/>
<rect x="279.806" y="243.228" width="5.031" height="5.761" fill="#EBB924" stroke="#EBB924" stroke-width="0.3"/>
<rect x="309.994" y="243.228" width="10.062" height="5.761" fill="#EBB924" stroke="#EBB924" stroke-width="0.3"/>
<rect x="325.087" y="243.228" width="5.031" height="5.761" fill="#EBB924" stroke="#EBB924" stroke-width="0.3"/>
<rect x="340.181" y="243.228" width="5.031" height="5.761" fill="#EBB924" stroke="#EBB924" stroke-width="0.3"/>
<rect x="355.275" y="243.228" width="5.031" height="5.761" fill="#67A7DB" stroke="#67A7DB" stroke-width="0.3"/>
<rect x="370.369" y="243.228" width="10.062" height="5.761" fill="#EBB924" stroke="#EBB924" stroke-width="0.3"/>
<rect x="405.587" y="243.228" width="5.031" height="5.761" fill="#EBB924" stroke="#EBB924" stroke-width="0.3"/>
<rect x="375.4" y="248.989" width="5.031" height="5.761" fill="#EBB924" stroke="#EBB924" stroke-width="0.3"/>
<rect x="254.3" y="202.35" width="161.7" height="52.95" fill="none" stroke="#222" stroke-width="1.25"/>
<rect x="420.05" y="202.35" width="51.1" height="52.95" fill="#fff"/>
<rect x="425.44" y="231.706" width="15.12" height="5.761" fill="#EBB924" stroke="#EBB924" stroke-width="0.3"/>
<rect x="445.6" y="231.706" width="5.04" height="5.761" fill="#EBB924" stroke="#EBB924" stroke-width="0.3"/>
<rect x="460.72" y="231.706" width="5.04" height="5.761" fill="#EBB924" stroke="#EBB924" stroke-width="0.3"/>
<rect x="450.64" y="243.228" width="5.04" height="5.761" fill="#EBB924" stroke="#EBB924" stroke-width="0.3"/>
<rect x="420.05" y="202.35" width="51.1" height="52.95" fill="none" stroke="#222" stroke-width="1.25"/>
<text x="475.562" y="207.731" font-size="6.3" textLength="23.544" lengthAdjust="spacingAndGlyphs" fill="#1e1e1e" stroke="#1e1e1e" stroke-width="0.12" stroke-linejoin="round">CEBPA</text>
<text x="475.562" y="213.492" font-size="6.3" textLength="18.489" lengthAdjust="spacingAndGlyphs" fill="#1e1e1e" stroke="#1e1e1e" stroke-width="0.12" stroke-linejoin="round">CUX1</text>
<text x="475.566" y="219.253" font-size="6.3" textLength="22.804" lengthAdjust="spacingAndGlyphs" fill="#1e1e1e" stroke="#1e1e1e" stroke-width="0.12" stroke-linejoin="round">GATA1</text>
<text x="475.566" y="225.014" font-size="6.3" textLength="22.804" lengthAdjust="spacingAndGlyphs" fill="#1e1e1e" stroke="#1e1e1e" stroke-width="0.12" stroke-linejoin="round">GATA2</text>
<text x="475.354" y="230.775" font-size="6.3" textLength="28.59" lengthAdjust="spacingAndGlyphs" fill="#1e1e1e" stroke="#1e1e1e" stroke-width="0.12" stroke-linejoin="round">NOTCH1</text>
<text x="475.354" y="236.536" font-size="6.3" textLength="19.226" lengthAdjust="spacingAndGlyphs" fill="#1e1e1e" stroke="#1e1e1e" stroke-width="0.12" stroke-linejoin="round">NPM1</text>
<text x="475.354" y="242.297" font-size="6.3" textLength="17.748" lengthAdjust="spacingAndGlyphs" fill="#1e1e1e" stroke="#1e1e1e" stroke-width="0.12" stroke-linejoin="round">PHF6</text>
<text x="475.354" y="248.058" font-size="6.3" textLength="23.541" lengthAdjust="spacingAndGlyphs" fill="#1e1e1e" stroke="#1e1e1e" stroke-width="0.12" stroke-linejoin="round">RUNX1</text>
<text x="475.598" y="253.819" font-size="6.3" textLength="26.752" lengthAdjust="spacingAndGlyphs" fill="#1e1e1e" stroke="#1e1e1e" stroke-width="0.12" stroke-linejoin="round">SETBP1</text>
<rect x="18.8" y="260.8" width="53.5" height="26.3" fill="#F3E5E2"/>
<rect x="17.1" y="259.1" width="56.9" height="29.7" fill="none" stroke="#222" stroke-width="1.25"/>
<text x="28.316" y="276.255" font-size="6.7" textLength="33.67" lengthAdjust="spacingAndGlyphs" fill="#1e1e1e" stroke="#1e1e1e" stroke-width="0.18" stroke-linejoin="round">Epigenetics</text>
<rect x="74" y="259.1" width="86.35" height="29.7" fill="#fff"/>
<rect x="109.618" y="259.65" width="5.038" height="5.72" fill="#EBB924" stroke="#EBB924" stroke-width="0.3"/>
<rect x="129.771" y="259.65" width="15.115" height="5.72" fill="#EBB924" stroke="#EBB924" stroke-width="0.3"/>
<rect x="154.962" y="259.65" width="5.038" height="5.72" fill="#EBB924" stroke="#EBB924" stroke-width="0.3"/>
<rect x="74.35" y="271.09" width="5.038" height="5.72" fill="#67A7DB" stroke="#67A7DB" stroke-width="0.3"/>
<rect x="79.388" y="271.09" width="5.038" height="5.72" fill="#EBB924" stroke="#EBB924" stroke-width="0.3"/>
<rect x="124.732" y="271.09" width="5.038" height="5.72" fill="#EBB924" stroke="#EBB924" stroke-width="0.3"/>
<rect x="109.618" y="276.81" width="5.038" height="5.72" fill="#67A7DB" stroke="#67A7DB" stroke-width="0.3"/>
<rect x="119.694" y="276.81" width="5.038" height="5.72" fill="#EBB924" stroke="#EBB924" stroke-width="0.3"/>
<rect x="74" y="259.1" width="86.35" height="29.7" fill="none" stroke="#222" stroke-width="1.25"/>
<rect x="164.5" y="259.1" width="45.8" height="29.7" fill="#fff"/>
<rect x="174.872" y="259.65" width="5.011" height="5.72" fill="#EBB924" stroke="#EBB924" stroke-width="0.3"/>
<rect x="184.894" y="259.65" width="5.011" height="5.72" fill="#EBB924" stroke="#EBB924" stroke-width="0.3"/>
<rect x="194.917" y="259.65" width="5.011" height="5.72" fill="#EBB924" stroke="#EBB924" stroke-width="0.3"/>
<rect x="164.5" y="259.1" width="45.8" height="29.7" fill="none" stroke="#222" stroke-width="1.25"/>
<rect x="214.4" y="259.1" width="15.9" height="29.7" fill="#fff"/>
<rect x="224.883" y="259.65" width="5.067" height="5.72" fill="#EBB924" stroke="#EBB924" stroke-width="0.3"/>
<rect x="214.4" y="259.1" width="15.9" height="29.7" fill="none" stroke="#222" stroke-width="1.25"/>
<rect x="234.6" y="259.1" width="15.65" height="29.7" fill="#fff"/>
<rect x="239.933" y="259.65" width="4.983" height="5.72" fill="#EBB924" stroke="#EBB924" stroke-width="0.3"/>
<rect x="244.917" y="282.53" width="4.983" height="5.72" fill="#67A7DB" stroke="#67A7DB" stroke-width="0.3"/>
<rect x="234.6" y="259.1" width="15.65" height="29.7" fill="none" stroke="#222" stroke-width="1.25"/>
<rect x="254.3" y="259.1" width="161.7" height="29.7" fill="#fff"/>
<rect x="259.681" y="259.65" width="5.031" height="5.72" fill="#EBB924" stroke="#EBB924" stroke-width="0.3"/>
<rect x="279.806" y="259.65" width="15.094" height="5.72" fill="#EBB924" stroke="#EBB924" stroke-width="0.3"/>
<rect x="299.931" y="259.65" width="10.062" height="5.72" fill="#EBB924" stroke="#EBB924" stroke-width="0.3"/>
<rect x="315.025" y="259.65" width="5.031" height="5.72" fill="#EBB924" stroke="#EBB924" stroke-width="0.3"/>
<rect x="335.15" y="259.65" width="5.031" height="5.72" fill="#EBB924" stroke="#EBB924" stroke-width="0.3"/>
<rect x="360.306" y="259.65" width="5.031" height="5.72" fill="#EBB924" stroke="#EBB924" stroke-width="0.3"/>
<rect x="375.4" y="259.65" width="10.062" height="5.72" fill="#EBB924" stroke="#EBB924" stroke-width="0.3"/>
<rect x="390.494" y="259.65" width="5.031" height="5.72" fill="#EBB924" stroke="#EBB924" stroke-width="0.3"/>
<rect x="375.4" y="265.37" width="5.031" height="5.72" fill="#67A7DB" stroke="#67A7DB" stroke-width="0.3"/>
<rect x="390.494" y="271.09" width="5.031" height="5.72" fill="#EBB924" stroke="#EBB924" stroke-width="0.3"/>
<rect x="279.806" y="276.81" width="5.031" height="5.72" fill="#67A7DB" stroke="#67A7DB" stroke-width="0.3"/>
<rect x="284.837" y="276.81" width="5.031" height="5.72" fill="#EBB924" stroke="#EBB924" stroke-width="0.3"/>
<rect x="299.931" y="276.81" width="5.031" height="5.72" fill="#EBB924" stroke="#EBB924" stroke-width="0.3"/>
<rect x="340.181" y="276.81" width="5.031" height="5.72" fill="#EBB924" stroke="#EBB924" stroke-width="0.3"/>
<rect x="375.4" y="276.81" width="5.031" height="5.72" fill="#EBB924" stroke="#EBB924" stroke-width="0.3"/>
<rect x="345.212" y="282.53" width="10.062" height="5.72" fill="#EBB924" stroke="#EBB924" stroke-width="0.3"/>
<rect x="395.525" y="282.53" width="5.031" height="5.72" fill="#EBB924" stroke="#EBB924" stroke-width="0.3"/>
<rect x="410.619" y="282.53" width="5.031" height="5.72" fill="#67A7DB" stroke="#67A7DB" stroke-width="0.3"/>
<rect x="254.3" y="259.1" width="161.7" height="29.7" fill="none" stroke="#222" stroke-width="1.25"/>
<rect x="420.05" y="259.1" width="51.1" height="29.7" fill="#fff"/>
<rect x="435.52" y="259.65" width="15.12" height="5.72" fill="#EBB924" stroke="#EBB924" stroke-width="0.3"/>
<rect x="455.68" y="259.65" width="5.04" height="5.72" fill="#EBB924" stroke="#EBB924" stroke-width="0.3"/>
<rect x="440.56" y="276.81" width="5.04" height="5.72" fill="#EBB924" stroke="#EBB924" stroke-width="0.3"/>
<rect x="455.68" y="282.53" width="5.04" height="5.72" fill="#EBB924" stroke="#EBB924" stroke-width="0.3"/>
<rect x="420.05" y="259.1" width="51.1" height="29.7" fill="none" stroke="#222" stroke-width="1.25"/>
<text x="475.354" y="264.46" font-size="6.3" textLength="28.59" lengthAdjust="spacingAndGlyphs" fill="#1e1e1e" stroke="#1e1e1e" stroke-width="0.12" stroke-linejoin="round">DNMT3A</text>
<text x="475.354" y="270.18" font-size="6.3" textLength="20.966" lengthAdjust="spacingAndGlyphs" fill="#1e1e1e" stroke="#1e1e1e" stroke-width="0.12" stroke-linejoin="round">EP300</text>
<text x="475.354" y="275.9" font-size="6.3" textLength="17.748" lengthAdjust="spacingAndGlyphs" fill="#1e1e1e" stroke="#1e1e1e" stroke-width="0.12" stroke-linejoin="round">EZH2</text>
<text x="475.751" y="281.62" font-size="6.3" textLength="17.008" lengthAdjust="spacingAndGlyphs" fill="#1e1e1e" stroke="#1e1e1e" stroke-width="0.12" stroke-linejoin="round">TET2</text>
<text x="475.871" y="287.34" font-size="6.3" textLength="14.537" lengthAdjust="spacingAndGlyphs" fill="#1e1e1e" stroke="#1e1e1e" stroke-width="0.12" stroke-linejoin="round">WT1</text>
<rect x="18.8" y="294.35" width="53.5" height="15.2" fill="#F3E5E2"/>
<rect x="17.1" y="292.65" width="56.9" height="18.6" fill="none" stroke="#222" stroke-width="1.25"/>
<text x="33.389" y="304.255" font-size="6.7" textLength="23.951" lengthAdjust="spacingAndGlyphs" fill="#1e1e1e" stroke="#1e1e1e" stroke-width="0.18" stroke-linejoin="round">Splicing</text>
<rect x="74" y="292.65" width="86.35" height="18.6" fill="#fff"/>
<rect x="74.35" y="293.2" width="5.038" height="5.833" fill="#EBB924" stroke="#EBB924" stroke-width="0.3"/>
<rect x="144.885" y="293.2" width="5.038" height="5.833" fill="#EBB924" stroke="#EBB924" stroke-width="0.3"/>
<rect x="94.503" y="299.033" width="5.038" height="5.833" fill="#67A7DB" stroke="#67A7DB" stroke-width="0.3"/>
<rect x="109.618" y="299.033" width="5.038" height="5.833" fill="#EBB924" stroke="#EBB924" stroke-width="0.3"/>
<rect x="119.694" y="299.033" width="5.038" height="5.833" fill="#EBB924" stroke="#EBB924" stroke-width="0.3"/>
<rect x="114.656" y="304.867" width="5.038" height="5.833" fill="#EBB924" stroke="#EBB924" stroke-width="0.3"/>
<rect x="74" y="292.65" width="86.35" height="18.6" fill="none" stroke="#222" stroke-width="1.25"/>
<rect x="164.5" y="292.65" width="45.8" height="18.6" fill="#fff"/>
<rect x="164.85" y="299.033" width="10.022" height="5.833" fill="#EBB924" stroke="#EBB924" stroke-width="0.3"/>
<rect x="174.872" y="304.867" width="5.011" height="5.833" fill="#EBB924" stroke="#EBB924" stroke-width="0.3"/>
<rect x="164.5" y="292.65" width="45.8" height="18.6" fill="none" stroke="#222" stroke-width="1.25"/>
<rect x="214.4" y="292.65" width="15.9" height="18.6" fill="#fff"/>
<rect x="219.817" y="299.033" width="10.133" height="5.833" fill="#EBB924" stroke="#EBB924" stroke-width="0.3"/>
<rect x="214.4" y="292.65" width="15.9" height="18.6" fill="none" stroke="#222" stroke-width="1.25"/>
<rect x="234.6" y="292.65" width="15.65" height="18.6" fill="#fff"/>
<rect x="234.95" y="293.2" width="4.983" height="5.833" fill="#EBB924" stroke="#EBB924" stroke-width="0.3"/>
<rect x="234.6" y="292.65" width="15.65" height="18.6" fill="none" stroke="#222" stroke-width="1.25"/>
<rect x="254.3" y="292.65" width="161.7" height="18.6" fill="#fff"/>
<rect x="355.275" y="293.2" width="5.031" height="5.833" fill="#EBB924" stroke="#EBB924" stroke-width="0.3"/>
<rect x="289.869" y="299.033" width="5.031" height="5.833" fill="#EBB924" stroke="#EBB924" stroke-width="0.3"/>
<rect x="315.025" y="299.033" width="5.031" height="5.833" fill="#EBB924" stroke="#EBB924" stroke-width="0.3"/>
<rect x="325.087" y="299.033" width="5.031" height="5.833" fill="#67A7DB" stroke="#67A7DB" stroke-width="0.3"/>
<rect x="340.181" y="299.033" width="5.031" height="5.833" fill="#EBB924" stroke="#EBB924" stroke-width="0.3"/>
<rect x="375.4" y="299.033" width="5.031" height="5.833" fill="#EBB924" stroke="#EBB924" stroke-width="0.3"/>
<rect x="405.587" y="299.033" width="5.031" height="5.833" fill="#EBB924" stroke="#EBB924" stroke-width="0.3"/>
<rect x="284.837" y="304.867" width="5.031" height="5.833" fill="#EBB924" stroke="#EBB924" stroke-width="0.3"/>
<rect x="370.369" y="304.867" width="5.031" height="5.833" fill="#EBB924" stroke="#EBB924" stroke-width="0.3"/>
<rect x="254.3" y="292.65" width="161.7" height="18.6" fill="none" stroke="#222" stroke-width="1.25"/>
<rect x="420.05" y="292.65" width="51.1" height="18.6" fill="#fff"/>
<rect x="450.64" y="299.033" width="5.04" height="5.833" fill="#EBB924" stroke="#EBB924" stroke-width="0.3"/>
<rect x="440.56" y="304.867" width="5.04" height="5.833" fill="#EBB924" stroke="#EBB924" stroke-width="0.3"/>
<rect x="420.05" y="292.65" width="51.1" height="18.6" fill="none" stroke="#222" stroke-width="1.25"/>
<text x="475.598" y="298.067" font-size="6.3" textLength="21.33" lengthAdjust="spacingAndGlyphs" fill="#1e1e1e" stroke="#1e1e1e" stroke-width="0.12" stroke-linejoin="round">SF3B1</text>
<text x="475.598" y="303.9" font-size="6.3" textLength="22.434" lengthAdjust="spacingAndGlyphs" fill="#1e1e1e" stroke="#1e1e1e" stroke-width="0.12" stroke-linejoin="round">SRSF2</text>
<text x="475.387" y="309.733" font-size="6.3" textLength="21.697" lengthAdjust="spacingAndGlyphs" fill="#1e1e1e" stroke="#1e1e1e" stroke-width="0.12" stroke-linejoin="round">U2AF1</text>
<rect x="18.8" y="316.85" width="53.5" height="8.95" fill="#F3E5E2"/>
<rect x="17.1" y="315.15" width="56.9" height="12.35" fill="none" stroke="#222" stroke-width="1.25"/>
<text x="30.568" y="323.63" font-size="6.7" textLength="29.422" lengthAdjust="spacingAndGlyphs" fill="#1e1e1e" stroke="#1e1e1e" stroke-width="0.18" stroke-linejoin="round">Cell Cycle</text>
<rect x="74" y="315.15" width="86.35" height="12.35" fill="#fff"/>
<rect x="74" y="315.15" width="86.35" height="12.35" fill="none" stroke="#222" stroke-width="1.25"/>
<rect x="164.5" y="315.15" width="45.8" height="12.35" fill="#fff"/>
<rect x="164.5" y="315.15" width="45.8" height="12.35" fill="none" stroke="#222" stroke-width="1.25"/>
<rect x="214.4" y="315.15" width="15.9" height="12.35" fill="#fff"/>
<rect x="214.4" y="315.15" width="15.9" height="12.35" fill="none" stroke="#222" stroke-width="1.25"/>
<rect x="234.6" y="315.15" width="15.65" height="12.35" fill="#fff"/>
<rect x="234.6" y="315.15" width="15.65" height="12.35" fill="none" stroke="#222" stroke-width="1.25"/>
<rect x="254.3" y="315.15" width="161.7" height="12.35" fill="#fff"/>
<rect x="269.744" y="315.7" width="5.031" height="5.625" fill="#EBB924" stroke="#EBB924" stroke-width="0.3"/>
<rect x="254.3" y="315.15" width="161.7" height="12.35" fill="none" stroke="#222" stroke-width="1.25"/>
<rect x="420.05" y="315.15" width="51.1" height="12.35" fill="#fff"/>
<rect x="465.76" y="321.325" width="5.04" height="5.625" fill="#EBB924" stroke="#EBB924" stroke-width="0.3"/>
<rect x="420.05" y="315.15" width="51.1" height="12.35" fill="none" stroke="#222" stroke-width="1.25"/>
<text x="475.562" y="320.462" font-size="6.3" textLength="28.227" lengthAdjust="spacingAndGlyphs" fill="#1e1e1e" stroke="#1e1e1e" stroke-width="0.12" stroke-linejoin="round">CDKN1B</text>
<text x="475.562" y="326.087" font-size="6.3" textLength="23.174" lengthAdjust="spacingAndGlyphs" fill="#1e1e1e" stroke="#1e1e1e" stroke-width="0.12" stroke-linejoin="round">CHEK2</text>
<rect x="18.8" y="333.35" width="53.5" height="9.2" fill="#F3E5E2"/>
<rect x="17.1" y="331.65" width="56.9" height="12.6" fill="none" stroke="#222" stroke-width="1.25"/>
<text x="27.974" y="340.255" font-size="6.7" textLength="34.233" lengthAdjust="spacingAndGlyphs" fill="#1e1e1e" stroke="#1e1e1e" stroke-width="0.18" stroke-linejoin="round">DNA Repair</text>
<rect x="74" y="331.65" width="86.35" height="12.6" fill="#fff"/>
<rect x="154.962" y="337.95" width="5.038" height="5.75" fill="#67A7DB" stroke="#67A7DB" stroke-width="0.3"/>
<rect x="74" y="331.65" width="86.35" height="12.6" fill="none" stroke="#222" stroke-width="1.25"/>
<rect x="164.5" y="331.65" width="45.8" height="12.6" fill="#fff"/>
<rect x="164.5" y="331.65" width="45.8" height="12.6" fill="none" stroke="#222" stroke-width="1.25"/>
<rect x="214.4" y="331.65" width="15.9" height="12.6" fill="#fff"/>
<rect x="224.883" y="332.2" width="5.067" height="5.75" fill="#EBB924" stroke="#EBB924" stroke-width="0.3"/>
<rect x="214.4" y="331.65" width="15.9" height="12.6" fill="none" stroke="#222" stroke-width="1.25"/>
<rect x="234.6" y="331.65" width="15.65" height="12.6" fill="#fff"/>
<rect x="234.6" y="331.65" width="15.65" height="12.6" fill="none" stroke="#222" stroke-width="1.25"/>
<rect x="254.3" y="331.65" width="161.7" height="12.6" fill="#fff"/>
<rect x="254.3" y="331.65" width="161.7" height="12.6" fill="none" stroke="#222" stroke-width="1.25"/>
<rect x="420.05" y="331.65" width="51.1" height="12.6" fill="#fff"/>
<rect x="420.05" y="331.65" width="51.1" height="12.6" fill="none" stroke="#222" stroke-width="1.25"/>
<text x="475.887" y="337.025" font-size="6.3" textLength="14.537" lengthAdjust="spacingAndGlyphs" fill="#1e1e1e" stroke="#1e1e1e" stroke-width="0.12" stroke-linejoin="round">ATM</text>
<text x="475.354" y="342.775" font-size="6.3" textLength="23.538" lengthAdjust="spacingAndGlyphs" fill="#1e1e1e" stroke="#1e1e1e" stroke-width="0.12" stroke-linejoin="round">FANCA</text>
<rect x="18.8" y="349.65" width="53.5" height="78.15" fill="#F3E5E2"/>
<rect x="17.1" y="347.95" width="56.9" height="81.55" fill="none" stroke="#222" stroke-width="1.25"/>
<text x="36.885" y="391.03" font-size="6.7" textLength="16.625" lengthAdjust="spacingAndGlyphs" fill="#1e1e1e" stroke="#1e1e1e" stroke-width="0.18" stroke-linejoin="round">Other</text>
<rect x="74" y="347.95" width="86.35" height="81.55" fill="#fff"/>
<rect x="149.924" y="365.739" width="5.038" height="5.746" fill="#EBB924" stroke="#EBB924" stroke-width="0.3"/>
<rect x="109.618" y="371.486" width="5.038" height="5.746" fill="#EBB924" stroke="#EBB924" stroke-width="0.3"/>
<rect x="79.388" y="377.232" width="5.038" height="5.746" fill="#EBB924" stroke="#EBB924" stroke-width="0.3"/>
<rect x="124.732" y="377.232" width="5.038" height="5.746" fill="#EBB924" stroke="#EBB924" stroke-width="0.3"/>
<rect x="109.618" y="388.725" width="5.038" height="5.746" fill="#EBB924" stroke="#EBB924" stroke-width="0.3"/>
<rect x="94.503" y="417.457" width="5.038" height="5.746" fill="#EBB924" stroke="#EBB924" stroke-width="0.3"/>
<rect x="144.885" y="423.204" width="5.038" height="5.746" fill="#EBB924" stroke="#EBB924" stroke-width="0.3"/>
<rect x="74" y="347.95" width="86.35" height="81.55" fill="none" stroke="#222" stroke-width="1.25"/>
<rect x="164.5" y="347.95" width="45.8" height="81.55" fill="#fff"/>
<rect x="164.85" y="417.457" width="5.011" height="5.746" fill="#67A7DB" stroke="#67A7DB" stroke-width="0.3"/>
<rect x="164.5" y="347.95" width="45.8" height="81.55" fill="none" stroke="#222" stroke-width="1.25"/>
<rect x="214.4" y="347.95" width="15.9" height="81.55" fill="#fff"/>
<rect x="214.4" y="347.95" width="15.9" height="81.55" fill="none" stroke="#222" stroke-width="1.25"/>
<rect x="234.6" y="347.95" width="15.65" height="81.55" fill="#fff"/>
<rect x="239.933" y="365.739" width="4.983" height="5.746" fill="#EBB924" stroke="#EBB924" stroke-width="0.3"/>
<rect x="234.95" y="377.232" width="4.983" height="5.746" fill="#EBB924" stroke="#EBB924" stroke-width="0.3"/>
<rect x="234.6" y="347.95" width="15.65" height="81.55" fill="none" stroke="#222" stroke-width="1.25"/>
<rect x="254.3" y="347.95" width="161.7" height="81.55" fill="#fff"/>
<rect x="350.244" y="359.993" width="5.031" height="5.746" fill="#EBB924" stroke="#EBB924" stroke-width="0.3"/>
<rect x="279.806" y="365.739" width="5.031" height="5.746" fill="#67A7DB" stroke="#67A7DB" stroke-width="0.3"/>
<rect x="400.556" y="400.218" width="5.031" height="5.746" fill="#EBB924" stroke="#EBB924" stroke-width="0.3"/>
<rect x="315.025" y="411.711" width="5.031" height="5.746" fill="#EBB924" stroke="#EBB924" stroke-width="0.3"/>
<rect x="259.681" y="417.457" width="5.031" height="5.746" fill="#EBB924" stroke="#EBB924" stroke-width="0.3"/>
<rect x="289.869" y="417.457" width="5.031" height="5.746" fill="#EBB924" stroke="#EBB924" stroke-width="0.3"/>
<rect x="330.119" y="417.457" width="5.031" height="5.746" fill="#EBB924" stroke="#EBB924" stroke-width="0.3"/>
<rect x="335.15" y="417.457" width="5.031" height="5.746" fill="#67A7DB" stroke="#67A7DB" stroke-width="0.3"/>
<rect x="254.3" y="347.95" width="161.7" height="81.55" fill="none" stroke="#222" stroke-width="1.25"/>
<rect x="420.05" y="347.95" width="51.1" height="81.55" fill="#fff"/>
<rect x="440.56" y="348.5" width="5.04" height="5.746" fill="#EBB924" stroke="#EBB924" stroke-width="0.3"/>
<rect x="440.56" y="377.232" width="5.04" height="5.746" fill="#EBB924" stroke="#EBB924" stroke-width="0.3"/>
<rect x="435.52" y="405.964" width="5.04" height="5.746" fill="#EBB924" stroke="#EBB924" stroke-width="0.3"/>
<rect x="420.4" y="417.457" width="5.04" height="5.746" fill="#EBB924" stroke="#EBB924" stroke-width="0.3"/>
<rect x="420.05" y="347.95" width="51.1" height="81.55" fill="none" stroke="#222" stroke-width="1.25"/>
<text x="475.887" y="353.323" font-size="6.3" textLength="14.173" lengthAdjust="spacingAndGlyphs" fill="#1e1e1e" stroke="#1e1e1e" stroke-width="0.12" stroke-linejoin="round">APC</text>
<text x="475.354" y="359.07" font-size="6.3" textLength="17.385" lengthAdjust="spacingAndGlyphs" fill="#1e1e1e" stroke="#1e1e1e" stroke-width="0.12" stroke-linejoin="round">BCL2</text>
<text x="475.354" y="364.816" font-size="6.3" textLength="20.219" lengthAdjust="spacingAndGlyphs" fill="#1e1e1e" stroke="#1e1e1e" stroke-width="0.12" stroke-linejoin="round">BRIP1</text>
<text x="475.562" y="370.562" font-size="6.3" textLength="13.436" lengthAdjust="spacingAndGlyphs" fill="#1e1e1e" stroke="#1e1e1e" stroke-width="0.12" stroke-linejoin="round">CBL</text>
<text x="475.354" y="376.309" font-size="6.3" textLength="22.807" lengthAdjust="spacingAndGlyphs" fill="#1e1e1e" stroke="#1e1e1e" stroke-width="0.12" stroke-linejoin="round">ERBB4</text>
<text x="475.796" y="382.055" font-size="6.3" textLength="16.644" lengthAdjust="spacingAndGlyphs" fill="#1e1e1e" stroke="#1e1e1e" stroke-width="0.12" stroke-linejoin="round">JAK2</text>
<text x="475.354" y="387.802" font-size="6.3" textLength="21.333" lengthAdjust="spacingAndGlyphs" fill="#1e1e1e" stroke="#1e1e1e" stroke-width="0.12" stroke-linejoin="round">KLHL6</text>
<text x="475.354" y="393.548" font-size="6.3" textLength="23.174" lengthAdjust="spacingAndGlyphs" fill="#1e1e1e" stroke="#1e1e1e" stroke-width="0.12" stroke-linejoin="round">MED12</text>
<text x="475.598" y="399.295" font-size="6.3" textLength="22.07" lengthAdjust="spacingAndGlyphs" fill="#1e1e1e" stroke="#1e1e1e" stroke-width="0.12" stroke-linejoin="round">SH2B3</text>
<text x="475.598" y="405.041" font-size="6.3" textLength="18.859" lengthAdjust="spacingAndGlyphs" fill="#1e1e1e" stroke="#1e1e1e" stroke-width="0.12" stroke-linejoin="round">SPEN</text>
<text x="475.598" y="410.788" font-size="6.3" textLength="21.697" lengthAdjust="spacingAndGlyphs" fill="#1e1e1e" stroke="#1e1e1e" stroke-width="0.12" stroke-linejoin="round">SUZ12</text>
<text x="475.751" y="416.534" font-size="6.3" textLength="30.331" lengthAdjust="spacingAndGlyphs" fill="#1e1e1e" stroke="#1e1e1e" stroke-width="0.12" stroke-linejoin="round">TBL1XR1</text>
<text x="475.751" y="422.28" font-size="6.3" textLength="16.644" lengthAdjust="spacingAndGlyphs" fill="#1e1e1e" stroke="#1e1e1e" stroke-width="0.12" stroke-linejoin="round">TP53</text>
<text x="475.751" y="428.027" font-size="6.3" textLength="18.492" lengthAdjust="spacingAndGlyphs" fill="#1e1e1e" stroke="#1e1e1e" stroke-width="0.12" stroke-linejoin="round">XPO1</text>
<line x1="471.15" y1="58.037" x2="472.95" y2="58.037" stroke="#222" stroke-width="0.9"/>
<line x1="471.15" y1="63.913" x2="472.95" y2="63.913" stroke="#222" stroke-width="0.9"/>
<line x1="471.15" y1="74.857" x2="472.95" y2="74.857" stroke="#222" stroke-width="0.9"/>
<line x1="471.15" y1="80.571" x2="472.95" y2="80.571" stroke="#222" stroke-width="0.9"/>
<line x1="471.15" y1="86.286" x2="472.95" y2="86.286" stroke="#222" stroke-width="0.9"/>
<line x1="471.15" y1="92" x2="472.95" y2="92" stroke="#222" stroke-width="0.9"/>
<line x1="471.15" y1="97.714" x2="472.95" y2="97.714" stroke="#222" stroke-width="0.9"/>
<line x1="471.15" y1="103.429" x2="472.95" y2="103.429" stroke="#222" stroke-width="0.9"/>
<line x1="471.15" y1="109.143" x2="472.95" y2="109.143" stroke="#222" stroke-width="0.9"/>
<line x1="471.15" y1="119.982" x2="472.95" y2="119.982" stroke="#222" stroke-width="0.9"/>
<line x1="471.15" y1="125.746" x2="472.95" y2="125.746" stroke="#222" stroke-width="0.9"/>
<line x1="471.15" y1="131.511" x2="472.95" y2="131.511" stroke="#222" stroke-width="0.9"/>
<line x1="471.15" y1="137.275" x2="472.95" y2="137.275" stroke="#222" stroke-width="0.9"/>
<line x1="471.15" y1="143.039" x2="472.95" y2="143.039" stroke="#222" stroke-width="0.9"/>
<line x1="471.15" y1="148.804" x2="472.95" y2="148.804" stroke="#222" stroke-width="0.9"/>
<line x1="471.15" y1="154.568" x2="472.95" y2="154.568" stroke="#222" stroke-width="0.9"/>
<line x1="471.15" y1="160.332" x2="472.95" y2="160.332" stroke="#222" stroke-width="0.9"/>
<line x1="471.15" y1="166.096" x2="472.95" y2="166.096" stroke="#222" stroke-width="0.9"/>
<line x1="471.15" y1="171.861" x2="472.95" y2="171.861" stroke="#222" stroke-width="0.9"/>
<line x1="471.15" y1="177.625" x2="472.95" y2="177.625" stroke="#222" stroke-width="0.9"/>
<line x1="471.15" y1="183.389" x2="472.95" y2="183.389" stroke="#222" stroke-width="0.9"/>
<line x1="471.15" y1="189.154" x2="472.95" y2="189.154" stroke="#222" stroke-width="0.9"/>
<line x1="471.15" y1="194.918" x2="472.95" y2="194.918" stroke="#222" stroke-width="0.9"/>
<line x1="471.15" y1="205.781" x2="472.95" y2="205.781" stroke="#222" stroke-width="0.9"/>
<line x1="471.15" y1="211.542" x2="472.95" y2="211.542" stroke="#222" stroke-width="0.9"/>
<line x1="471.15" y1="217.303" x2="472.95" y2="217.303" stroke="#222" stroke-width="0.9"/>
<line x1="471.15" y1="223.064" x2="472.95" y2="223.064" stroke="#222" stroke-width="0.9"/>
<line x1="471.15" y1="228.825" x2="472.95" y2="228.825" stroke="#222" stroke-width="0.9"/>
<line x1="471.15" y1="234.586" x2="472.95" y2="234.586" stroke="#222" stroke-width="0.9"/>
<line x1="471.15" y1="240.347" x2="472.95" y2="240.347" stroke="#222" stroke-width="0.9"/>
<line x1="471.15" y1="246.108" x2="472.95" y2="246.108" stroke="#222" stroke-width="0.9"/>
<line x1="471.15" y1="251.869" x2="472.95" y2="251.869" stroke="#222" stroke-width="0.9"/>
<line x1="471.15" y1="262.51" x2="472.95" y2="262.51" stroke="#222" stroke-width="0.9"/>
<line x1="471.15" y1="268.23" x2="472.95" y2="268.23" stroke="#222" stroke-width="0.9"/>
<line x1="471.15" y1="273.95" x2="472.95" y2="273.95" stroke="#222" stroke-width="0.9"/>
<line x1="471.15" y1="279.67" x2="472.95" y2="279.67" stroke="#222" stroke-width="0.9"/>
<line x1="471.15" y1="285.39" x2="472.95" y2="285.39" stroke="#222" stroke-width="0.9"/>
<line x1="471.15" y1="296.117" x2="472.95" y2="296.117" stroke="#222" stroke-width="0.9"/>
<line x1="471.15" y1="301.95" x2="472.95" y2="301.95" stroke="#222" stroke-width="0.9"/>
<line x1="471.15" y1="307.783" x2="472.95" y2="307.783" stroke="#222" stroke-width="0.9"/>
<line x1="471.15" y1="318.512" x2="472.95" y2="318.512" stroke="#222" stroke-width="0.9"/>
<line x1="471.15" y1="324.137" x2="472.95" y2="324.137" stroke="#222" stroke-width="0.9"/>
<line x1="471.15" y1="335.075" x2="472.95" y2="335.075" stroke="#222" stroke-width="0.9"/>
<line x1="471.15" y1="340.825" x2="472.95" y2="340.825" stroke="#222" stroke-width="0.9"/>
<line x1="471.15" y1="351.373" x2="472.95" y2="351.373" stroke="#222" stroke-width="0.9"/>
<line x1="471.15" y1="357.12" x2="472.95" y2="357.12" stroke="#222" stroke-width="0.9"/>
<line x1="471.15" y1="362.866" x2="472.95" y2="362.866" stroke="#222" stroke-width="0.9"/>
<line x1="471.15" y1="368.613" x2="472.95" y2="368.613" stroke="#222" stroke-width="0.9"/>
<line x1="471.15" y1="374.359" x2="472.95" y2="374.359" stroke="#222" stroke-width="0.9"/>
<line x1="471.15" y1="380.105" x2="472.95" y2="380.105" stroke="#222" stroke-width="0.9"/>
<line x1="471.15" y1="385.852" x2="472.95" y2="385.852" stroke="#222" stroke-width="0.9"/>
<line x1="471.15" y1="391.598" x2="472.95" y2="391.598" stroke="#222" stroke-width="0.9"/>
<line x1="471.15" y1="397.345" x2="472.95" y2="397.345" stroke="#222" stroke-width="0.9"/>
<line x1="471.15" y1="403.091" x2="472.95" y2="403.091" stroke="#222" stroke-width="0.9"/>
<line x1="471.15" y1="408.838" x2="472.95" y2="408.838" stroke="#222" stroke-width="0.9"/>
<line x1="471.15" y1="414.584" x2="472.95" y2="414.584" stroke="#222" stroke-width="0.9"/>
<line x1="471.15" y1="420.33" x2="472.95" y2="420.33" stroke="#222" stroke-width="0.9"/>
<line x1="471.15" y1="426.077" x2="472.95" y2="426.077" stroke="#222" stroke-width="0.9"/>
<g transform="translate(175.234 60.637) scale(0.00313234 -0.00361328)" fill="#000" stroke="#000" stroke-width="96.865" stroke-linejoin="round"><use href="#r59" x="0"/></g>
<g transform="translate(200.289 60.637) scale(0.00313234 -0.00361328)" fill="#000" stroke="#000" stroke-width="96.865" stroke-linejoin="round"><use href="#r59" x="0"/></g>
<g transform="translate(205.3 60.637) scale(0.00313234 -0.00361328)" fill="#000" stroke="#000" stroke-width="96.865" stroke-linejoin="round"><use href="#r59" x="0"/></g>
<g transform="translate(260.053 60.637) scale(0.00313234 -0.00361328)" fill="#000" stroke="#000" stroke-width="96.865" stroke-linejoin="round"><use href="#r59" x="0"/></g>
<g transform="translate(315.397 60.637) scale(0.00313234 -0.00361328)" fill="#000" stroke="#000" stroke-width="96.865" stroke-linejoin="round"><use href="#r59" x="0"/></g>
<g transform="translate(320.428 60.637) scale(0.00313234 -0.00361328)" fill="#000" stroke="#000" stroke-width="96.865" stroke-linejoin="round"><use href="#r59" x="0"/></g>
<g transform="translate(325.459 60.637) scale(0.00313234 -0.00361328)" fill="#000" stroke="#000" stroke-width="96.865" stroke-linejoin="round"><use href="#r59" x="0"/></g>
<g transform="translate(395.897 60.637) scale(0.00313234 -0.00361328)" fill="#000" stroke="#000" stroke-width="96.865" stroke-linejoin="round"><use href="#r59" x="0"/></g>
<g transform="translate(104.954 88.886) scale(0.00313234 -0.00361328)" fill="#000" stroke="#000" stroke-width="96.865" stroke-linejoin="round"><use href="#r59" x="0"/></g>
<g transform="translate(89.84 106.029) scale(0.00313234 -0.00361328)" fill="#000" stroke="#000" stroke-width="96.865" stroke-linejoin="round"><use href="#r59" x="0"/></g>
<g transform="translate(104.954 106.029) scale(0.00313234 -0.00361328)" fill="#000" stroke="#000" stroke-width="96.865" stroke-linejoin="round"><use href="#r59" x="0"/></g>
<g transform="translate(104.954 111.743) scale(0.00313234 -0.00361328)" fill="#000" stroke="#000" stroke-width="96.865" stroke-linejoin="round"><use href="#r59" x="0"/></g>
<g transform="translate(245.264 88.886) scale(0.00313234 -0.00361328)" fill="#000" stroke="#000" stroke-width="96.865" stroke-linejoin="round"><use href="#r59" x="0"/></g>
<g transform="translate(275.147 77.457) scale(0.00313234 -0.00361328)" fill="#000" stroke="#000" stroke-width="96.865" stroke-linejoin="round"><use href="#r59" x="0"/></g>
<g transform="translate(280.178 88.886) scale(0.00313234 -0.00361328)" fill="#000" stroke="#000" stroke-width="96.865" stroke-linejoin="round"><use href="#r59" x="0"/></g>
<g transform="translate(395.897 88.886) scale(0.00313234 -0.00361328)" fill="#000" stroke="#000" stroke-width="96.865" stroke-linejoin="round"><use href="#r59" x="0"/></g>
<g transform="translate(275.147 94.6) scale(0.00313234 -0.00361328)" fill="#000" stroke="#000" stroke-width="96.865" stroke-linejoin="round"><use href="#r59" x="0"/></g>
<g transform="translate(350.615 106.029) scale(0.00313234 -0.00361328)" fill="#000" stroke="#000" stroke-width="96.865" stroke-linejoin="round"><use href="#r59" x="0"/></g>
<g transform="translate(275.147 111.743) scale(0.00313234 -0.00361328)" fill="#000" stroke="#000" stroke-width="96.865" stroke-linejoin="round"><use href="#r59" x="0"/></g>
<g transform="translate(451.016 100.314) scale(0.00313234 -0.00361328)" fill="#000" stroke="#000" stroke-width="96.865" stroke-linejoin="round"><use href="#r59" x="0"/></g>
<g transform="translate(430.856 106.029) scale(0.00313234 -0.00361328)" fill="#000" stroke="#000" stroke-width="96.865" stroke-linejoin="round"><use href="#r59" x="0"/></g>
<g transform="translate(466.136 106.029) scale(0.00313234 -0.00361328)" fill="#000" stroke="#000" stroke-width="96.865" stroke-linejoin="round"><use href="#r59" x="0"/></g>
<g transform="translate(195.278 128.346) scale(0.00313234 -0.00361328)" fill="#000" stroke="#000" stroke-width="96.865" stroke-linejoin="round"><use href="#r59" x="0"/></g>
<g transform="translate(330.49 122.582) scale(0.00313234 -0.00361328)" fill="#000" stroke="#000" stroke-width="96.865" stroke-linejoin="round"><use href="#r59" x="0"/></g>
<g transform="translate(405.959 128.346) scale(0.00313234 -0.00361328)" fill="#000" stroke="#000" stroke-width="96.865" stroke-linejoin="round"><use href="#r59" x="0"/></g>
<g transform="translate(390.865 145.639) scale(0.00313234 -0.00361328)" fill="#000" stroke="#000" stroke-width="96.865" stroke-linejoin="round"><use href="#r59" x="0"/></g>
<g transform="translate(335.522 185.989) scale(0.00313234 -0.00361328)" fill="#000" stroke="#000" stroke-width="96.865" stroke-linejoin="round"><use href="#r59" x="0"/></g>
<g transform="translate(466.136 162.932) scale(0.00313234 -0.00361328)" fill="#000" stroke="#000" stroke-width="96.865" stroke-linejoin="round"><use href="#r59" x="0"/></g>
<g transform="translate(79.763 248.708) scale(0.00313234 -0.00361328)" fill="#000" stroke="#000" stroke-width="96.865" stroke-linejoin="round"><use href="#r59" x="0"/></g>
<g transform="translate(109.993 248.708) scale(0.00313234 -0.00361328)" fill="#000" stroke="#000" stroke-width="96.865" stroke-linejoin="round"><use href="#r59" x="0"/></g>
<g transform="translate(120.069 248.708) scale(0.00313234 -0.00361328)" fill="#000" stroke="#000" stroke-width="96.865" stroke-linejoin="round"><use href="#r59" x="0"/></g>
<g transform="translate(340.553 208.381) scale(0.00313234 -0.00361328)" fill="#000" stroke="#000" stroke-width="96.865" stroke-linejoin="round"><use href="#r59" x="0"/></g>
<g transform="translate(320.428 237.186) scale(0.00313234 -0.00361328)" fill="#000" stroke="#000" stroke-width="96.865" stroke-linejoin="round"><use href="#r59" x="0"/></g>
<g transform="translate(285.209 242.947) scale(0.00313234 -0.00361328)" fill="#000" stroke="#000" stroke-width="96.865" stroke-linejoin="round"><use href="#r59" x="0"/></g>
<g transform="translate(280.178 282.27) scale(0.00313234 -0.00361328)" fill="#000" stroke="#000" stroke-width="96.865" stroke-linejoin="round"><use href="#r59" x="0"/></g>
<g transform="translate(395.897 287.99) scale(0.00313234 -0.00361328)" fill="#000" stroke="#000" stroke-width="96.865" stroke-linejoin="round"><use href="#r59" x="0"/></g>
<g transform="translate(280.178 304.55) scale(0.00313234 -0.00361328)" fill="#000" stroke="#000" stroke-width="96.865" stroke-linejoin="round"><use href="#r59" x="0"/></g>
<g transform="translate(355.647 304.55) scale(0.00313234 -0.00361328)" fill="#000" stroke="#000" stroke-width="96.865" stroke-linejoin="round"><use href="#r59" x="0"/></g>
<g transform="translate(451.016 304.55) scale(0.00313234 -0.00361328)" fill="#000" stroke="#000" stroke-width="96.865" stroke-linejoin="round"><use href="#r59" x="0"/></g>
<g transform="translate(461.096 304.55) scale(0.00313234 -0.00361328)" fill="#000" stroke="#000" stroke-width="96.865" stroke-linejoin="round"><use href="#r59" x="0"/></g>
<g transform="translate(74.725 359.72) scale(0.00313234 -0.00361328)" fill="#000" stroke="#000" stroke-width="96.865" stroke-linejoin="round"><use href="#r59" x="0"/></g>
<g transform="translate(74.725 388.452) scale(0.00313234 -0.00361328)" fill="#000" stroke="#000" stroke-width="96.865" stroke-linejoin="round"><use href="#r59" x="0"/></g>
<g transform="translate(215.139 422.93) scale(0.00313234 -0.00361328)" fill="#000" stroke="#000" stroke-width="96.865" stroke-linejoin="round"><use href="#r59" x="0"/></g>
<g transform="translate(240.281 394.198) scale(0.00313234 -0.00361328)" fill="#000" stroke="#000" stroke-width="96.865" stroke-linejoin="round"><use href="#r59" x="0"/></g>
<g transform="translate(275.147 399.945) scale(0.00313234 -0.00361328)" fill="#000" stroke="#000" stroke-width="96.865" stroke-linejoin="round"><use href="#r59" x="0"/></g>
<g transform="translate(280.178 422.93) scale(0.00313234 -0.00361328)" fill="#000" stroke="#000" stroke-width="96.865" stroke-linejoin="round"><use href="#r59" x="0"/></g>
<g transform="translate(365.709 422.93) scale(0.00313234 -0.00361328)" fill="#000" stroke="#000" stroke-width="96.865" stroke-linejoin="round"><use href="#r59" x="0"/></g>
<g transform="translate(461.096 382.705) scale(0.00313234 -0.00361328)" fill="#000" stroke="#000" stroke-width="96.865" stroke-linejoin="round"><use href="#r59" x="0"/></g>
<line x1="76.869" y1="429.5" x2="76.869" y2="431.3" stroke="#222" stroke-width="0.9"/>
<line x1="81.907" y1="429.5" x2="81.907" y2="431.3" stroke="#222" stroke-width="0.9"/>
<line x1="86.946" y1="429.5" x2="86.946" y2="431.3" stroke="#222" stroke-width="0.9"/>
<line x1="91.984" y1="429.5" x2="91.984" y2="431.3" stroke="#222" stroke-width="0.9"/>
<line x1="97.022" y1="429.5" x2="97.022" y2="431.3" stroke="#222" stroke-width="0.9"/>
<line x1="102.06" y1="429.5" x2="102.06" y2="431.3" stroke="#222" stroke-width="0.9"/>
<line x1="107.099" y1="429.5" x2="107.099" y2="431.3" stroke="#222" stroke-width="0.9"/>
<line x1="112.137" y1="429.5" x2="112.137" y2="431.3" stroke="#222" stroke-width="0.9"/>
<line x1="117.175" y1="429.5" x2="117.175" y2="431.3" stroke="#222" stroke-width="0.9"/>
<line x1="122.213" y1="429.5" x2="122.213" y2="431.3" stroke="#222" stroke-width="0.9"/>
<line x1="127.251" y1="429.5" x2="127.251" y2="431.3" stroke="#222" stroke-width="0.9"/>
<line x1="132.29" y1="429.5" x2="132.29" y2="431.3" stroke="#222" stroke-width="0.9"/>
<line x1="137.328" y1="429.5" x2="137.328" y2="431.3" stroke="#222" stroke-width="0.9"/>
<line x1="142.366" y1="429.5" x2="142.366" y2="431.3" stroke="#222" stroke-width="0.9"/>
<line x1="147.404" y1="429.5" x2="147.404" y2="431.3" stroke="#222" stroke-width="0.9"/>
<line x1="152.443" y1="429.5" x2="152.443" y2="431.3" stroke="#222" stroke-width="0.9"/>
<line x1="157.481" y1="429.5" x2="157.481" y2="431.3" stroke="#222" stroke-width="0.9"/>
<line x1="167.356" y1="429.5" x2="167.356" y2="431.3" stroke="#222" stroke-width="0.9"/>
<line x1="172.367" y1="429.5" x2="172.367" y2="431.3" stroke="#222" stroke-width="0.9"/>
<line x1="177.378" y1="429.5" x2="177.378" y2="431.3" stroke="#222" stroke-width="0.9"/>
<line x1="182.389" y1="429.5" x2="182.389" y2="431.3" stroke="#222" stroke-width="0.9"/>
<line x1="187.4" y1="429.5" x2="187.4" y2="431.3" stroke="#222" stroke-width="0.9"/>
<line x1="192.411" y1="429.5" x2="192.411" y2="431.3" stroke="#222" stroke-width="0.9"/>
<line x1="197.422" y1="429.5" x2="197.422" y2="431.3" stroke="#222" stroke-width="0.9"/>
<line x1="202.433" y1="429.5" x2="202.433" y2="431.3" stroke="#222" stroke-width="0.9"/>
<line x1="207.444" y1="429.5" x2="207.444" y2="431.3" stroke="#222" stroke-width="0.9"/>
<line x1="217.283" y1="429.5" x2="217.283" y2="431.3" stroke="#222" stroke-width="0.9"/>
<line x1="222.35" y1="429.5" x2="222.35" y2="431.3" stroke="#222" stroke-width="0.9"/>
<line x1="227.417" y1="429.5" x2="227.417" y2="431.3" stroke="#222" stroke-width="0.9"/>
<line x1="237.442" y1="429.5" x2="237.442" y2="431.3" stroke="#222" stroke-width="0.9"/>
<line x1="242.425" y1="429.5" x2="242.425" y2="431.3" stroke="#222" stroke-width="0.9"/>
<line x1="247.408" y1="429.5" x2="247.408" y2="431.3" stroke="#222" stroke-width="0.9"/>
<line x1="257.166" y1="429.5" x2="257.166" y2="431.3" stroke="#222" stroke-width="0.9"/>
<line x1="262.197" y1="429.5" x2="262.197" y2="431.3" stroke="#222" stroke-width="0.9"/>
<line x1="267.228" y1="429.5" x2="267.228" y2="431.3" stroke="#222" stroke-width="0.9"/>
<line x1="272.259" y1="429.5" x2="272.259" y2="431.3" stroke="#222" stroke-width="0.9"/>
<line x1="277.291" y1="429.5" x2="277.291" y2="431.3" stroke="#222" stroke-width="0.9"/>
<line x1="282.322" y1="429.5" x2="282.322" y2="431.3" stroke="#222" stroke-width="0.9"/>
<line x1="287.353" y1="429.5" x2="287.353" y2="431.3" stroke="#222" stroke-width="0.9"/>
<line x1="292.384" y1="429.5" x2="292.384" y2="431.3" stroke="#222" stroke-width="0.9"/>
<line x1="297.416" y1="429.5" x2="297.416" y2="431.3" stroke="#222" stroke-width="0.9"/>
<line x1="302.447" y1="429.5" x2="302.447" y2="431.3" stroke="#222" stroke-width="0.9"/>
<line x1="307.478" y1="429.5" x2="307.478" y2="431.3" stroke="#222" stroke-width="0.9"/>
<line x1="312.509" y1="429.5" x2="312.509" y2="431.3" stroke="#222" stroke-width="0.9"/>
<line x1="317.541" y1="429.5" x2="317.541" y2="431.3" stroke="#222" stroke-width="0.9"/>
<line x1="322.572" y1="429.5" x2="322.572" y2="431.3" stroke="#222" stroke-width="0.9"/>
<line x1="327.603" y1="429.5" x2="327.603" y2="431.3" stroke="#222" stroke-width="0.9"/>
<line x1="332.634" y1="429.5" x2="332.634" y2="431.3" stroke="#222" stroke-width="0.9"/>
<line x1="337.666" y1="429.5" x2="337.666" y2="431.3" stroke="#222" stroke-width="0.9"/>
<line x1="342.697" y1="429.5" x2="342.697" y2="431.3" stroke="#222" stroke-width="0.9"/>
<line x1="347.728" y1="429.5" x2="347.728" y2="431.3" stroke="#222" stroke-width="0.9"/>
<line x1="352.759" y1="429.5" x2="352.759" y2="431.3" stroke="#222" stroke-width="0.9"/>
<line x1="357.791" y1="429.5" x2="357.791" y2="431.3" stroke="#222" stroke-width="0.9"/>
<line x1="362.822" y1="429.5" x2="362.822" y2="431.3" stroke="#222" stroke-width="0.9"/>
<line x1="367.853" y1="429.5" x2="367.853" y2="431.3" stroke="#222" stroke-width="0.9"/>
<line x1="372.884" y1="429.5" x2="372.884" y2="431.3" stroke="#222" stroke-width="0.9"/>
<line x1="377.916" y1="429.5" x2="377.916" y2="431.3" stroke="#222" stroke-width="0.9"/>
<line x1="382.947" y1="429.5" x2="382.947" y2="431.3" stroke="#222" stroke-width="0.9"/>
<line x1="387.978" y1="429.5" x2="387.978" y2="431.3" stroke="#222" stroke-width="0.9"/>
<line x1="393.009" y1="429.5" x2="393.009" y2="431.3" stroke="#222" stroke-width="0.9"/>
<line x1="398.041" y1="429.5" x2="398.041" y2="431.3" stroke="#222" stroke-width="0.9"/>
<line x1="403.072" y1="429.5" x2="403.072" y2="431.3" stroke="#222" stroke-width="0.9"/>
<line x1="408.103" y1="429.5" x2="408.103" y2="431.3" stroke="#222" stroke-width="0.9"/>
<line x1="413.134" y1="429.5" x2="413.134" y2="431.3" stroke="#222" stroke-width="0.9"/>
<line x1="422.92" y1="429.5" x2="422.92" y2="431.3" stroke="#222" stroke-width="0.9"/>
<line x1="427.96" y1="429.5" x2="427.96" y2="431.3" stroke="#222" stroke-width="0.9"/>
<line x1="433" y1="429.5" x2="433" y2="431.3" stroke="#222" stroke-width="0.9"/>
<line x1="438.04" y1="429.5" x2="438.04" y2="431.3" stroke="#222" stroke-width="0.9"/>
<line x1="443.08" y1="429.5" x2="443.08" y2="431.3" stroke="#222" stroke-width="0.9"/>
<line x1="448.12" y1="429.5" x2="448.12" y2="431.3" stroke="#222" stroke-width="0.9"/>
<line x1="453.16" y1="429.5" x2="453.16" y2="431.3" stroke="#222" stroke-width="0.9"/>
<line x1="458.2" y1="429.5" x2="458.2" y2="431.3" stroke="#222" stroke-width="0.9"/>
<line x1="463.24" y1="429.5" x2="463.24" y2="431.3" stroke="#222" stroke-width="0.9"/>
<line x1="468.28" y1="429.5" x2="468.28" y2="431.3" stroke="#222" stroke-width="0.9"/>
<text x="70.771" y="451.2" font-size="6.5" textLength="52.644" lengthAdjust="spacingAndGlyphs" fill="#1e1e1e" stroke="#1e1e1e" stroke-width="0.08" stroke-linejoin="round">Variants at RL/PD</text>
<rect x="133.9" y="443.1" width="10.8" height="10.8" fill="#EBB924"/>
<text x="148.355" y="451.2" font-size="6.5" textLength="60.54" lengthAdjust="spacingAndGlyphs" fill="#1e1e1e" stroke="#1e1e1e" stroke-width="0.08" stroke-linejoin="round">Detected at baseline</text>
<rect x="235.2" y="443.0" width="10.8" height="10.8" fill="#67A7DB"/>
<text x="249.148" y="451.2" font-size="6.5" textLength="72.551" lengthAdjust="spacingAndGlyphs" fill="#1e1e1e" stroke="#1e1e1e" stroke-width="0.08" stroke-linejoin="round">Not detected at baseline</text>
<text x="337.453" y="451.2" font-size="6.5" textLength="117.86" lengthAdjust="spacingAndGlyphs" fill="#1e1e1e" stroke="#1e1e1e" stroke-width="0.08" stroke-linejoin="round">X: Detected at baseline but not at RL/PD</text>
<rect x="133.9" y="459.4" width="10.8" height="10.7" fill="#EBB924"/>
<rect x="235.2" y="459.6" width="10.8" height="10.4" fill="#67A7DB"/>
<g transform="translate(136.62 467.6) scale(0.00391543 -0.00400391)" fill="#000" stroke="#000" stroke-width="29.971" stroke-linejoin="round"><use href="#r59" x="0"/></g>
<g transform="translate(237.92 468.1) scale(0.00391543 -0.00400391)" fill="#000" stroke="#000" stroke-width="29.971" stroke-linejoin="round"><use href="#r59" x="0"/></g>
<text x="148.755" y="467" font-size="6.5" textLength="81.593" lengthAdjust="spacingAndGlyphs" fill="#1e1e1e" stroke="#1e1e1e" stroke-width="0.08" stroke-linejoin="round">Two variants are detected at</text>
<text x="148.478" y="474.8" font-size="6.5" textLength="80.397" lengthAdjust="spacingAndGlyphs" fill="#1e1e1e" stroke="#1e1e1e" stroke-width="0.08" stroke-linejoin="round">baseline, one of which is no</text>
<text x="148.459" y="482.6" font-size="6.5" textLength="73.555" lengthAdjust="spacingAndGlyphs" fill="#1e1e1e" stroke="#1e1e1e" stroke-width="0.08" stroke-linejoin="round">longer detected at RL/PD</text>
<text x="249.687" y="467" font-size="6.5" textLength="87.06" lengthAdjust="spacingAndGlyphs" fill="#1e1e1e" stroke="#1e1e1e" stroke-width="0.08" stroke-linejoin="round">At RL/PD, the baseline variant</text>
<text x="249.255" y="474.8" font-size="6.5" textLength="80.245" lengthAdjust="spacingAndGlyphs" fill="#1e1e1e" stroke="#1e1e1e" stroke-width="0.08" stroke-linejoin="round">is no longer detected, but a</text>
<text x="249.26" y="482.6" font-size="6.5" textLength="67.08" lengthAdjust="spacingAndGlyphs" fill="#1e1e1e" stroke="#1e1e1e" stroke-width="0.08" stroke-linejoin="round">new mutation emerges</text>
<text x="7.084" y="510.5" font-size="12.2" font-weight="bold" textLength="8.81" lengthAdjust="spacingAndGlyphs" fill="#000" stroke="#000" stroke-width="0.35" stroke-linejoin="round">B</text>
<line x1="18.75" y1="511.8" x2="248.3" y2="511.8" stroke="#111" stroke-width="1.4"/>
<text x="101.794" y="521.2" font-size="6.8" font-weight="bold" textLength="139.443" lengthAdjust="spacingAndGlyphs" fill="#111" stroke="#111" stroke-width="0.2" stroke-linejoin="round">Patients with emerging mutations at RL/PD</text>
<line x1="95.9" y1="526.2" x2="248.3" y2="526.2" stroke="#111" stroke-width="1.1"/>
<text x="27.251" y="532.7" font-size="6.8" font-weight="bold" textLength="47.384" lengthAdjust="spacingAndGlyphs" fill="#111" stroke="#111" stroke-width="0.2" stroke-linejoin="round">Pathway, n (%)</text>
<text x="122.613" y="538" font-size="6.8" font-weight="bold" textLength="9.621" lengthAdjust="spacingAndGlyphs" fill="#111" stroke="#111" stroke-width="0.2" stroke-linejoin="round">All</text>
<text x="115.251" y="546.4" font-size="6.8" font-weight="bold" textLength="24.697" lengthAdjust="spacingAndGlyphs" fill="#111" stroke="#111" stroke-width="0.2" stroke-linejoin="round">(n = 74)</text>
<text x="163.693" y="538" font-size="6.8" font-weight="bold" textLength="70.693" lengthAdjust="spacingAndGlyphs" fill="#111" stroke="#111" stroke-width="0.2" stroke-linejoin="round">With best response of</text>
<text x="169.222" y="546.4" font-size="6.8" font-weight="bold" textLength="60.015" lengthAdjust="spacingAndGlyphs" fill="#111" stroke="#111" stroke-width="0.2" stroke-linejoin="round">CR or CRh (n = 26)</text>
<line x1="18.75" y1="552.3" x2="248.3" y2="552.3" stroke="#111" stroke-width="1.4"/>
<text x="27.259" y="564.7" font-size="6.6" textLength="39.616" lengthAdjust="spacingAndGlyphs" fill="#1e1e1e" stroke="#1e1e1e" stroke-width="0.18" stroke-linejoin="round">RTK pathway</text>
<text x="116.101" y="564.7" font-size="7" textLength="22.179" lengthAdjust="spacingAndGlyphs" fill="#1e1e1e" stroke="#1e1e1e" stroke-width="0.18" stroke-linejoin="round">20 (27)</text>
<text x="189.81" y="564.7" font-size="7" textLength="18.286" lengthAdjust="spacingAndGlyphs" fill="#1e1e1e" stroke="#1e1e1e" stroke-width="0.18" stroke-linejoin="round">9 (35)</text>
<text x="27.539" y="575.97" font-size="6.6" font-style="italic" textLength="33.744" lengthAdjust="spacingAndGlyphs" fill="#1e1e1e" stroke="#1e1e1e" stroke-width="0.18" stroke-linejoin="round">IDH<tspan font-style="normal">-related</tspan></text>
<text x="116.011" y="575.97" font-size="7" textLength="22.179" lengthAdjust="spacingAndGlyphs" fill="#1e1e1e" stroke="#1e1e1e" stroke-width="0.18" stroke-linejoin="round">17 (23)</text>
<text x="189.81" y="575.97" font-size="7" textLength="18.286" lengthAdjust="spacingAndGlyphs" fill="#1e1e1e" stroke="#1e1e1e" stroke-width="0.18" stroke-linejoin="round">9 (35)</text>
<text x="33.739" y="587.24" font-size="6.6" font-style="italic" textLength="50.621" lengthAdjust="spacingAndGlyphs" fill="#1e1e1e" stroke="#1e1e1e" stroke-width="0.18" stroke-linejoin="round">IDH1<tspan font-style="normal"> second-site</tspan></text>
<text x="116.011" y="587.24" font-size="7" textLength="22.179" lengthAdjust="spacingAndGlyphs" fill="#1e1e1e" stroke="#1e1e1e" stroke-width="0.18" stroke-linejoin="round">10 (14)</text>
<text x="189.834" y="587.24" font-size="7" textLength="18.286" lengthAdjust="spacingAndGlyphs" fill="#1e1e1e" stroke="#1e1e1e" stroke-width="0.18" stroke-linejoin="round">5 (19)</text>
<text x="33.739" y="598.51" font-size="6.6" font-style="italic" textLength="15.037" lengthAdjust="spacingAndGlyphs" fill="#1e1e1e" stroke="#1e1e1e" stroke-width="0.18" stroke-linejoin="round">IDH2</text>
<text x="118.06" y="598.51" font-size="7" textLength="18.286" lengthAdjust="spacingAndGlyphs" fill="#1e1e1e" stroke="#1e1e1e" stroke-width="0.18" stroke-linejoin="round">9 (12)</text>
<text x="189.796" y="598.51" font-size="7" textLength="18.286" lengthAdjust="spacingAndGlyphs" fill="#1e1e1e" stroke="#1e1e1e" stroke-width="0.18" stroke-linejoin="round">6 (23)</text>
<text x="27.259" y="609.78" font-size="6.6" textLength="40.721" lengthAdjust="spacingAndGlyphs" fill="#1e1e1e" stroke="#1e1e1e" stroke-width="0.18" stroke-linejoin="round">Differentiation</text>
<text x="116.011" y="609.78" font-size="7" textLength="22.179" lengthAdjust="spacingAndGlyphs" fill="#1e1e1e" stroke="#1e1e1e" stroke-width="0.18" stroke-linejoin="round">13 (18)</text>
<text x="189.822" y="609.78" font-size="7" textLength="18.286" lengthAdjust="spacingAndGlyphs" fill="#1e1e1e" stroke="#1e1e1e" stroke-width="0.18" stroke-linejoin="round">8 (31)</text>
<text x="27.465" y="621.05" font-size="6.6" textLength="30.444" lengthAdjust="spacingAndGlyphs" fill="#1e1e1e" stroke="#1e1e1e" stroke-width="0.18" stroke-linejoin="round">Chromatin</text>
<text x="118.072" y="621.05" font-size="7" textLength="18.286" lengthAdjust="spacingAndGlyphs" fill="#1e1e1e" stroke="#1e1e1e" stroke-width="0.18" stroke-linejoin="round">8 (11)</text>
<text x="189.795" y="621.05" font-size="7" textLength="18.286" lengthAdjust="spacingAndGlyphs" fill="#1e1e1e" stroke="#1e1e1e" stroke-width="0.18" stroke-linejoin="round">7 (27)</text>
<text x="27.259" y="632.32" font-size="6.6" textLength="34.121" lengthAdjust="spacingAndGlyphs" fill="#1e1e1e" stroke="#1e1e1e" stroke-width="0.18" stroke-linejoin="round">Epigenetics</text>
<text x="119.993" y="632.32" font-size="7" textLength="14.393" lengthAdjust="spacingAndGlyphs" fill="#1e1e1e" stroke="#1e1e1e" stroke-width="0.18" stroke-linejoin="round">6 (8)</text>
<text x="191.744" y="632.32" font-size="7" textLength="14.393" lengthAdjust="spacingAndGlyphs" fill="#1e1e1e" stroke="#1e1e1e" stroke-width="0.18" stroke-linejoin="round">2 (8)</text>
<line x1="18.75" y1="639.2" x2="248.3" y2="639.2" stroke="#111" stroke-width="1.4"/>
<rect x="0.6" y="0.6" width="518.8" height="647.8" fill="none" stroke="#000" stroke-width="1.25"/>
</svg>
</body></html>
